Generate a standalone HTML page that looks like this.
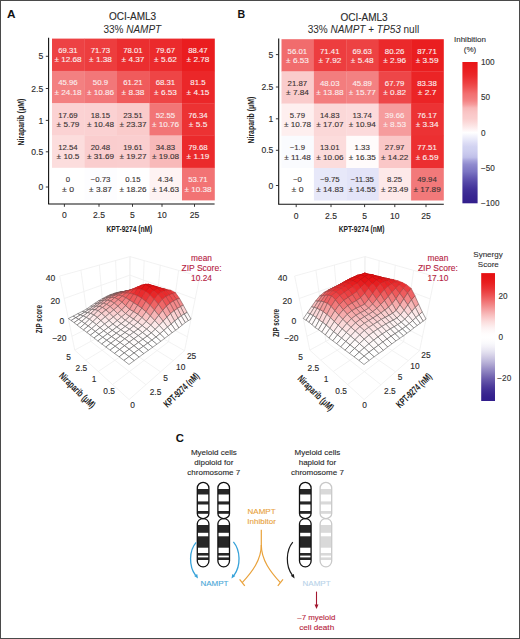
<!DOCTYPE html>
<html><head><meta charset="utf-8"><style>
html,body{margin:0;padding:0;background:#fff;}
svg{display:block;font-family:"Liberation Sans", sans-serif;}
</style></head><body>
<svg width="520" height="639" viewBox="0 0 520 639">
<rect width="520" height="639" fill="#fff"/>
<rect x="0.5" y="0.5" width="519" height="638" fill="none" stroke="#4a4a4a" stroke-width="1"/>
<text x="7.00" y="17.80" font-size="11.8" text-anchor="start" fill="#111" font-weight="bold" >A</text>
<text x="237.50" y="17.60" font-size="10.6" text-anchor="start" fill="#111" font-weight="bold" >B</text>
<text x="175.80" y="441.60" font-size="11.3" text-anchor="start" fill="#111" font-weight="bold" >C</text>
<text x="132.50" y="20.30" font-size="10" text-anchor="middle" fill="#2a2a2a" stroke="#2a2a2a" stroke-width="0.12" >OCI-AML3</text>
<text x="132.3" y="32.5" font-size="10" text-anchor="middle" fill="#2a2a2a">33% <tspan font-style="italic">NAMPT</tspan></text>
<text x="364.00" y="20.50" font-size="10" text-anchor="middle" fill="#2a2a2a" stroke="#2a2a2a" stroke-width="0.12" >OCI-AML3</text>
<text x="363.4" y="32.5" font-size="10" text-anchor="middle" fill="#2a2a2a">33% <tspan font-style="italic">NAMPT</tspan> + <tspan font-style="italic">TP53</tspan> null</text>
<rect x="52.00" y="38.60" width="32.80" height="32.60" fill="#ed4244"/>
<rect x="84.50" y="38.60" width="32.80" height="32.60" fill="#ed3d3e"/>
<rect x="117.00" y="38.60" width="32.80" height="32.60" fill="#eb2e30"/>
<rect x="149.50" y="38.60" width="32.80" height="32.60" fill="#eb2a2c"/>
<rect x="182.00" y="38.60" width="32.80" height="32.60" fill="#ea1d1f"/>
<rect x="52.00" y="70.90" width="32.80" height="32.60" fill="#f38081"/>
<rect x="84.50" y="70.90" width="32.80" height="32.60" fill="#f27779"/>
<rect x="117.00" y="70.90" width="32.80" height="32.60" fill="#f05b5c"/>
<rect x="149.50" y="70.90" width="32.80" height="32.60" fill="#ee4546"/>
<rect x="182.00" y="70.90" width="32.80" height="32.60" fill="#eb2729"/>
<rect x="52.00" y="103.20" width="32.80" height="32.60" fill="#fbd2d3"/>
<rect x="84.50" y="103.20" width="32.80" height="32.60" fill="#fbd1d2"/>
<rect x="117.00" y="103.20" width="32.80" height="32.60" fill="#facbcb"/>
<rect x="149.50" y="103.20" width="32.80" height="32.60" fill="#f27576"/>
<rect x="182.00" y="103.20" width="32.80" height="32.60" fill="#ec3233"/>
<rect x="52.00" y="135.50" width="32.80" height="32.60" fill="#fcdddd"/>
<rect x="84.50" y="135.50" width="32.80" height="32.60" fill="#facdce"/>
<rect x="117.00" y="135.50" width="32.80" height="32.60" fill="#facecf"/>
<rect x="149.50" y="135.50" width="32.80" height="32.60" fill="#f8b9b9"/>
<rect x="182.00" y="135.50" width="32.80" height="32.60" fill="#eb2a2c"/>
<rect x="52.00" y="167.80" width="32.80" height="32.60" fill="#ffffff"/>
<rect x="84.50" y="167.80" width="32.80" height="32.60" fill="#fdfdff"/>
<rect x="117.00" y="167.80" width="32.80" height="32.60" fill="#ffffff"/>
<rect x="149.50" y="167.80" width="32.80" height="32.60" fill="#fef3f3"/>
<rect x="182.00" y="167.80" width="32.80" height="32.60" fill="#f27374"/>
<text x="67.95" y="52.95" font-size="7.5" text-anchor="middle" fill="#fbeeee" stroke="#fbeeee" stroke-width="0.12" textLength="19.52" lengthAdjust="spacingAndGlyphs">69.31</text>
<text x="68.05" y="62.35" font-size="7.5" text-anchor="middle" fill="#fbeeee" stroke="#fbeeee" stroke-width="0.12" textLength="27.17" lengthAdjust="spacingAndGlyphs">± 12.68</text>
<text x="100.45" y="52.95" font-size="7.5" text-anchor="middle" fill="#fbeeee" stroke="#fbeeee" stroke-width="0.12" textLength="19.52" lengthAdjust="spacingAndGlyphs">71.73</text>
<text x="100.55" y="62.35" font-size="7.5" text-anchor="middle" fill="#fbeeee" stroke="#fbeeee" stroke-width="0.12" textLength="22.83" lengthAdjust="spacingAndGlyphs">± 1.38</text>
<text x="132.95" y="52.95" font-size="7.5" text-anchor="middle" fill="#fbeeee" stroke="#fbeeee" stroke-width="0.12" textLength="19.52" lengthAdjust="spacingAndGlyphs">78.01</text>
<text x="133.05" y="62.35" font-size="7.5" text-anchor="middle" fill="#fbeeee" stroke="#fbeeee" stroke-width="0.12" textLength="22.83" lengthAdjust="spacingAndGlyphs">± 4.37</text>
<text x="165.45" y="52.95" font-size="7.5" text-anchor="middle" fill="#fbeeee" stroke="#fbeeee" stroke-width="0.12" textLength="19.52" lengthAdjust="spacingAndGlyphs">79.67</text>
<text x="165.55" y="62.35" font-size="7.5" text-anchor="middle" fill="#fbeeee" stroke="#fbeeee" stroke-width="0.12" textLength="22.83" lengthAdjust="spacingAndGlyphs">± 5.62</text>
<text x="197.95" y="52.95" font-size="7.5" text-anchor="middle" fill="#fbeeee" stroke="#fbeeee" stroke-width="0.12" textLength="19.52" lengthAdjust="spacingAndGlyphs">88.47</text>
<text x="198.05" y="62.35" font-size="7.5" text-anchor="middle" fill="#fbeeee" stroke="#fbeeee" stroke-width="0.12" textLength="22.83" lengthAdjust="spacingAndGlyphs">± 2.78</text>
<text x="67.95" y="85.25" font-size="7.5" text-anchor="middle" fill="#fbeeee" stroke="#fbeeee" stroke-width="0.12" textLength="19.52" lengthAdjust="spacingAndGlyphs">45.96</text>
<text x="68.05" y="94.65" font-size="7.5" text-anchor="middle" fill="#fbeeee" stroke="#fbeeee" stroke-width="0.12" textLength="27.17" lengthAdjust="spacingAndGlyphs">± 24.18</text>
<text x="100.45" y="85.25" font-size="7.5" text-anchor="middle" fill="#fbeeee" stroke="#fbeeee" stroke-width="0.12" textLength="15.18" lengthAdjust="spacingAndGlyphs">50.9</text>
<text x="100.55" y="94.65" font-size="7.5" text-anchor="middle" fill="#fbeeee" stroke="#fbeeee" stroke-width="0.12" textLength="27.17" lengthAdjust="spacingAndGlyphs">± 10.86</text>
<text x="132.95" y="85.25" font-size="7.5" text-anchor="middle" fill="#fbeeee" stroke="#fbeeee" stroke-width="0.12" textLength="19.52" lengthAdjust="spacingAndGlyphs">61.21</text>
<text x="133.05" y="94.65" font-size="7.5" text-anchor="middle" fill="#fbeeee" stroke="#fbeeee" stroke-width="0.12" textLength="22.83" lengthAdjust="spacingAndGlyphs">± 8.38</text>
<text x="165.45" y="85.25" font-size="7.5" text-anchor="middle" fill="#fbeeee" stroke="#fbeeee" stroke-width="0.12" textLength="19.52" lengthAdjust="spacingAndGlyphs">68.31</text>
<text x="165.55" y="94.65" font-size="7.5" text-anchor="middle" fill="#fbeeee" stroke="#fbeeee" stroke-width="0.12" textLength="22.83" lengthAdjust="spacingAndGlyphs">± 6.53</text>
<text x="197.95" y="85.25" font-size="7.5" text-anchor="middle" fill="#fbeeee" stroke="#fbeeee" stroke-width="0.12" textLength="15.18" lengthAdjust="spacingAndGlyphs">81.5</text>
<text x="198.05" y="94.65" font-size="7.5" text-anchor="middle" fill="#fbeeee" stroke="#fbeeee" stroke-width="0.12" textLength="22.83" lengthAdjust="spacingAndGlyphs">± 4.15</text>
<text x="67.95" y="117.55" font-size="7.5" text-anchor="middle" fill="#3a3333" stroke="#3a3333" stroke-width="0.12" textLength="19.52" lengthAdjust="spacingAndGlyphs">17.69</text>
<text x="68.05" y="126.95" font-size="7.5" text-anchor="middle" fill="#3a3333" stroke="#3a3333" stroke-width="0.12" textLength="22.83" lengthAdjust="spacingAndGlyphs">± 5.79</text>
<text x="100.45" y="117.55" font-size="7.5" text-anchor="middle" fill="#3a3333" stroke="#3a3333" stroke-width="0.12" textLength="19.52" lengthAdjust="spacingAndGlyphs">18.15</text>
<text x="100.55" y="126.95" font-size="7.5" text-anchor="middle" fill="#3a3333" stroke="#3a3333" stroke-width="0.12" textLength="27.17" lengthAdjust="spacingAndGlyphs">± 10.48</text>
<text x="132.95" y="117.55" font-size="7.5" text-anchor="middle" fill="#3a3333" stroke="#3a3333" stroke-width="0.12" textLength="19.52" lengthAdjust="spacingAndGlyphs">23.51</text>
<text x="133.05" y="126.95" font-size="7.5" text-anchor="middle" fill="#3a3333" stroke="#3a3333" stroke-width="0.12" textLength="27.17" lengthAdjust="spacingAndGlyphs">± 23.37</text>
<text x="165.45" y="117.55" font-size="7.5" text-anchor="middle" fill="#fbeeee" stroke="#fbeeee" stroke-width="0.12" textLength="19.52" lengthAdjust="spacingAndGlyphs">52.55</text>
<text x="165.55" y="126.95" font-size="7.5" text-anchor="middle" fill="#fbeeee" stroke="#fbeeee" stroke-width="0.12" textLength="27.17" lengthAdjust="spacingAndGlyphs">± 10.76</text>
<text x="197.95" y="117.55" font-size="7.5" text-anchor="middle" fill="#fbeeee" stroke="#fbeeee" stroke-width="0.12" textLength="19.52" lengthAdjust="spacingAndGlyphs">76.34</text>
<text x="198.05" y="126.95" font-size="7.5" text-anchor="middle" fill="#fbeeee" stroke="#fbeeee" stroke-width="0.12" textLength="18.49" lengthAdjust="spacingAndGlyphs">± 5.5</text>
<text x="67.95" y="149.85" font-size="7.5" text-anchor="middle" fill="#3a3333" stroke="#3a3333" stroke-width="0.12" textLength="19.52" lengthAdjust="spacingAndGlyphs">12.54</text>
<text x="68.05" y="159.25" font-size="7.5" text-anchor="middle" fill="#3a3333" stroke="#3a3333" stroke-width="0.12" textLength="22.83" lengthAdjust="spacingAndGlyphs">± 10.5</text>
<text x="100.45" y="149.85" font-size="7.5" text-anchor="middle" fill="#3a3333" stroke="#3a3333" stroke-width="0.12" textLength="19.52" lengthAdjust="spacingAndGlyphs">20.48</text>
<text x="100.55" y="159.25" font-size="7.5" text-anchor="middle" fill="#3a3333" stroke="#3a3333" stroke-width="0.12" textLength="27.17" lengthAdjust="spacingAndGlyphs">± 31.69</text>
<text x="132.95" y="149.85" font-size="7.5" text-anchor="middle" fill="#3a3333" stroke="#3a3333" stroke-width="0.12" textLength="19.52" lengthAdjust="spacingAndGlyphs">19.61</text>
<text x="133.05" y="159.25" font-size="7.5" text-anchor="middle" fill="#3a3333" stroke="#3a3333" stroke-width="0.12" textLength="27.17" lengthAdjust="spacingAndGlyphs">± 19.27</text>
<text x="165.45" y="149.85" font-size="7.5" text-anchor="middle" fill="#3a3333" stroke="#3a3333" stroke-width="0.12" textLength="19.52" lengthAdjust="spacingAndGlyphs">34.83</text>
<text x="165.55" y="159.25" font-size="7.5" text-anchor="middle" fill="#3a3333" stroke="#3a3333" stroke-width="0.12" textLength="27.17" lengthAdjust="spacingAndGlyphs">± 19.08</text>
<text x="197.95" y="149.85" font-size="7.5" text-anchor="middle" fill="#fbeeee" stroke="#fbeeee" stroke-width="0.12" textLength="19.52" lengthAdjust="spacingAndGlyphs">79.68</text>
<text x="198.05" y="159.25" font-size="7.5" text-anchor="middle" fill="#fbeeee" stroke="#fbeeee" stroke-width="0.12" textLength="22.83" lengthAdjust="spacingAndGlyphs">± 1.19</text>
<text x="67.95" y="182.15" font-size="7.5" text-anchor="middle" fill="#3a3333" stroke="#3a3333" stroke-width="0.12" textLength="4.34" lengthAdjust="spacingAndGlyphs">0</text>
<text x="68.05" y="191.55" font-size="7.5" text-anchor="middle" fill="#3a3333" stroke="#3a3333" stroke-width="0.12" textLength="11.99" lengthAdjust="spacingAndGlyphs">± 0</text>
<text x="100.45" y="182.15" font-size="7.5" text-anchor="middle" fill="#3a3333" stroke="#3a3333" stroke-width="0.12" textLength="19.74" lengthAdjust="spacingAndGlyphs">−0.73</text>
<text x="100.55" y="191.55" font-size="7.5" text-anchor="middle" fill="#3a3333" stroke="#3a3333" stroke-width="0.12" textLength="22.83" lengthAdjust="spacingAndGlyphs">± 3.87</text>
<text x="132.95" y="182.15" font-size="7.5" text-anchor="middle" fill="#3a3333" stroke="#3a3333" stroke-width="0.12" textLength="15.18" lengthAdjust="spacingAndGlyphs">0.15</text>
<text x="133.05" y="191.55" font-size="7.5" text-anchor="middle" fill="#3a3333" stroke="#3a3333" stroke-width="0.12" textLength="27.17" lengthAdjust="spacingAndGlyphs">± 18.26</text>
<text x="165.45" y="182.15" font-size="7.5" text-anchor="middle" fill="#3a3333" stroke="#3a3333" stroke-width="0.12" textLength="15.18" lengthAdjust="spacingAndGlyphs">4.34</text>
<text x="165.55" y="191.55" font-size="7.5" text-anchor="middle" fill="#3a3333" stroke="#3a3333" stroke-width="0.12" textLength="27.17" lengthAdjust="spacingAndGlyphs">± 14.63</text>
<text x="197.95" y="182.15" font-size="7.5" text-anchor="middle" fill="#fbeeee" stroke="#fbeeee" stroke-width="0.12" textLength="19.52" lengthAdjust="spacingAndGlyphs">53.71</text>
<text x="198.05" y="191.55" font-size="7.5" text-anchor="middle" fill="#fbeeee" stroke="#fbeeee" stroke-width="0.12" textLength="27.17" lengthAdjust="spacingAndGlyphs">± 10.38</text>
<line x1="48.60" y1="37.8" x2="48.60" y2="204.0" stroke="#111" stroke-width="1.1"/>
<line x1="48.10" y1="204.00" x2="214.60" y2="204.00" stroke="#111" stroke-width="1.1"/>
<line x1="64.40" y1="204.0" x2="64.40" y2="206.8" stroke="#222" stroke-width="0.9"/>
<text x="64.40" y="218.40" font-size="8.6" text-anchor="middle" fill="#2a2a2a" stroke="#2a2a2a" stroke-width="0.12" >0</text>
<line x1="99.00" y1="204.0" x2="99.00" y2="206.8" stroke="#222" stroke-width="0.9"/>
<text x="99.00" y="218.40" font-size="8.6" text-anchor="middle" fill="#2a2a2a" stroke="#2a2a2a" stroke-width="0.12" >2.5</text>
<line x1="132.50" y1="204.0" x2="132.50" y2="206.8" stroke="#222" stroke-width="0.9"/>
<text x="132.50" y="218.40" font-size="8.6" text-anchor="middle" fill="#2a2a2a" stroke="#2a2a2a" stroke-width="0.12" >5</text>
<line x1="162.00" y1="204.0" x2="162.00" y2="206.8" stroke="#222" stroke-width="0.9"/>
<text x="162.00" y="218.40" font-size="8.6" text-anchor="middle" fill="#2a2a2a" stroke="#2a2a2a" stroke-width="0.12" >10</text>
<line x1="194.50" y1="204.0" x2="194.50" y2="206.8" stroke="#222" stroke-width="0.9"/>
<text x="194.50" y="218.40" font-size="8.6" text-anchor="middle" fill="#2a2a2a" stroke="#2a2a2a" stroke-width="0.12" >25</text>
<line x1="45.80" y1="56.30" x2="48.6" y2="56.30" stroke="#222" stroke-width="0.9"/>
<text x="43.30" y="59.40" font-size="8.6" text-anchor="end" fill="#2a2a2a" stroke="#2a2a2a" stroke-width="0.12" >5</text>
<line x1="45.80" y1="88.50" x2="48.6" y2="88.50" stroke="#222" stroke-width="0.9"/>
<text x="43.30" y="91.60" font-size="8.6" text-anchor="end" fill="#2a2a2a" stroke="#2a2a2a" stroke-width="0.12" >2.5</text>
<line x1="45.80" y1="120.40" x2="48.6" y2="120.40" stroke="#222" stroke-width="0.9"/>
<text x="43.30" y="123.50" font-size="8.6" text-anchor="end" fill="#2a2a2a" stroke="#2a2a2a" stroke-width="0.12" >1</text>
<line x1="45.80" y1="151.80" x2="48.6" y2="151.80" stroke="#222" stroke-width="0.9"/>
<text x="43.30" y="154.90" font-size="8.6" text-anchor="end" fill="#2a2a2a" stroke="#2a2a2a" stroke-width="0.12" >0.5</text>
<line x1="45.80" y1="187.00" x2="48.6" y2="187.00" stroke="#222" stroke-width="0.9"/>
<text x="43.30" y="190.10" font-size="8.6" text-anchor="end" fill="#2a2a2a" stroke="#2a2a2a" stroke-width="0.12" >0</text>
<text x="129.4" y="232.2" font-size="8.6" font-weight="bold" text-anchor="middle" fill="#222" textLength="45.8" lengthAdjust="spacingAndGlyphs">KPT-9274 (nM)</text>
<text transform="translate(24.0,122.0) rotate(-90)" x="0" y="0" font-size="8.6" font-weight="bold" text-anchor="middle" fill="#222" textLength="46.8" lengthAdjust="spacingAndGlyphs">Niraparib (μM)</text>
<rect x="281.50" y="39.20" width="32.70" height="32.50" fill="#f16c6d"/>
<rect x="313.90" y="39.20" width="32.70" height="32.50" fill="#ed3d3f"/>
<rect x="346.30" y="39.20" width="32.70" height="32.50" fill="#ed4243"/>
<rect x="378.70" y="39.20" width="32.70" height="32.50" fill="#eb292b"/>
<rect x="411.10" y="39.20" width="32.70" height="32.50" fill="#ea1e20"/>
<rect x="281.50" y="71.40" width="32.70" height="32.50" fill="#facccc"/>
<rect x="313.90" y="71.40" width="32.70" height="32.50" fill="#f37d7e"/>
<rect x="346.30" y="71.40" width="32.70" height="32.50" fill="#f38182"/>
<rect x="378.70" y="71.40" width="32.70" height="32.50" fill="#ee4648"/>
<rect x="411.10" y="71.40" width="32.70" height="32.50" fill="#eb2426"/>
<rect x="281.50" y="103.60" width="32.70" height="32.50" fill="#feefef"/>
<rect x="313.90" y="103.60" width="32.70" height="32.50" fill="#fbd8d8"/>
<rect x="346.30" y="103.60" width="32.70" height="32.50" fill="#fcdadb"/>
<rect x="378.70" y="103.60" width="32.70" height="32.50" fill="#f69c9d"/>
<rect x="411.10" y="103.60" width="32.70" height="32.50" fill="#ec3234"/>
<rect x="281.50" y="135.80" width="32.70" height="32.50" fill="#fafbfe"/>
<rect x="313.90" y="135.80" width="32.70" height="32.50" fill="#fcdcdc"/>
<rect x="346.30" y="135.80" width="32.70" height="32.50" fill="#fffbfb"/>
<rect x="378.70" y="135.80" width="32.70" height="32.50" fill="#fac7c7"/>
<rect x="411.10" y="135.80" width="32.70" height="32.50" fill="#ec2f31"/>
<rect x="281.50" y="168.00" width="32.70" height="32.50" fill="#ffffff"/>
<rect x="313.90" y="168.00" width="32.70" height="32.50" fill="#e7e8f9"/>
<rect x="346.30" y="168.00" width="32.70" height="32.50" fill="#e3e4f8"/>
<rect x="378.70" y="168.00" width="32.70" height="32.50" fill="#fde9e9"/>
<rect x="411.10" y="168.00" width="32.70" height="32.50" fill="#f2797a"/>
<text x="297.40" y="53.50" font-size="7.5" text-anchor="middle" fill="#fbeeee" stroke="#fbeeee" stroke-width="0.12" textLength="19.52" lengthAdjust="spacingAndGlyphs">56.01</text>
<text x="297.50" y="62.90" font-size="7.5" text-anchor="middle" fill="#fbeeee" stroke="#fbeeee" stroke-width="0.12" textLength="22.83" lengthAdjust="spacingAndGlyphs">± 6.53</text>
<text x="329.80" y="53.50" font-size="7.5" text-anchor="middle" fill="#fbeeee" stroke="#fbeeee" stroke-width="0.12" textLength="19.52" lengthAdjust="spacingAndGlyphs">71.41</text>
<text x="329.90" y="62.90" font-size="7.5" text-anchor="middle" fill="#fbeeee" stroke="#fbeeee" stroke-width="0.12" textLength="22.83" lengthAdjust="spacingAndGlyphs">± 7.92</text>
<text x="362.20" y="53.50" font-size="7.5" text-anchor="middle" fill="#fbeeee" stroke="#fbeeee" stroke-width="0.12" textLength="19.52" lengthAdjust="spacingAndGlyphs">69.63</text>
<text x="362.30" y="62.90" font-size="7.5" text-anchor="middle" fill="#fbeeee" stroke="#fbeeee" stroke-width="0.12" textLength="22.83" lengthAdjust="spacingAndGlyphs">± 5.48</text>
<text x="394.60" y="53.50" font-size="7.5" text-anchor="middle" fill="#fbeeee" stroke="#fbeeee" stroke-width="0.12" textLength="19.52" lengthAdjust="spacingAndGlyphs">80.26</text>
<text x="394.70" y="62.90" font-size="7.5" text-anchor="middle" fill="#fbeeee" stroke="#fbeeee" stroke-width="0.12" textLength="22.83" lengthAdjust="spacingAndGlyphs">± 2.96</text>
<text x="427.00" y="53.50" font-size="7.5" text-anchor="middle" fill="#fbeeee" stroke="#fbeeee" stroke-width="0.12" textLength="19.52" lengthAdjust="spacingAndGlyphs">87.71</text>
<text x="427.10" y="62.90" font-size="7.5" text-anchor="middle" fill="#fbeeee" stroke="#fbeeee" stroke-width="0.12" textLength="22.83" lengthAdjust="spacingAndGlyphs">± 3.59</text>
<text x="297.40" y="85.70" font-size="7.5" text-anchor="middle" fill="#3a3333" stroke="#3a3333" stroke-width="0.12" textLength="19.52" lengthAdjust="spacingAndGlyphs">21.87</text>
<text x="297.50" y="95.10" font-size="7.5" text-anchor="middle" fill="#3a3333" stroke="#3a3333" stroke-width="0.12" textLength="22.83" lengthAdjust="spacingAndGlyphs">± 7.84</text>
<text x="329.80" y="85.70" font-size="7.5" text-anchor="middle" fill="#fbeeee" stroke="#fbeeee" stroke-width="0.12" textLength="19.52" lengthAdjust="spacingAndGlyphs">48.03</text>
<text x="329.90" y="95.10" font-size="7.5" text-anchor="middle" fill="#fbeeee" stroke="#fbeeee" stroke-width="0.12" textLength="27.17" lengthAdjust="spacingAndGlyphs">± 13.88</text>
<text x="362.20" y="85.70" font-size="7.5" text-anchor="middle" fill="#fbeeee" stroke="#fbeeee" stroke-width="0.12" textLength="19.52" lengthAdjust="spacingAndGlyphs">45.89</text>
<text x="362.30" y="95.10" font-size="7.5" text-anchor="middle" fill="#fbeeee" stroke="#fbeeee" stroke-width="0.12" textLength="27.17" lengthAdjust="spacingAndGlyphs">± 15.77</text>
<text x="394.60" y="85.70" font-size="7.5" text-anchor="middle" fill="#fbeeee" stroke="#fbeeee" stroke-width="0.12" textLength="19.52" lengthAdjust="spacingAndGlyphs">67.79</text>
<text x="394.70" y="95.10" font-size="7.5" text-anchor="middle" fill="#fbeeee" stroke="#fbeeee" stroke-width="0.12" textLength="22.83" lengthAdjust="spacingAndGlyphs">± 0.82</text>
<text x="427.00" y="85.70" font-size="7.5" text-anchor="middle" fill="#fbeeee" stroke="#fbeeee" stroke-width="0.12" textLength="19.52" lengthAdjust="spacingAndGlyphs">83.38</text>
<text x="427.10" y="95.10" font-size="7.5" text-anchor="middle" fill="#fbeeee" stroke="#fbeeee" stroke-width="0.12" textLength="18.49" lengthAdjust="spacingAndGlyphs">± 2.7</text>
<text x="297.40" y="117.90" font-size="7.5" text-anchor="middle" fill="#3a3333" stroke="#3a3333" stroke-width="0.12" textLength="15.18" lengthAdjust="spacingAndGlyphs">5.79</text>
<text x="297.50" y="127.30" font-size="7.5" text-anchor="middle" fill="#3a3333" stroke="#3a3333" stroke-width="0.12" textLength="27.17" lengthAdjust="spacingAndGlyphs">± 10.78</text>
<text x="329.80" y="117.90" font-size="7.5" text-anchor="middle" fill="#3a3333" stroke="#3a3333" stroke-width="0.12" textLength="19.52" lengthAdjust="spacingAndGlyphs">14.83</text>
<text x="329.90" y="127.30" font-size="7.5" text-anchor="middle" fill="#3a3333" stroke="#3a3333" stroke-width="0.12" textLength="27.17" lengthAdjust="spacingAndGlyphs">± 17.07</text>
<text x="362.20" y="117.90" font-size="7.5" text-anchor="middle" fill="#3a3333" stroke="#3a3333" stroke-width="0.12" textLength="19.52" lengthAdjust="spacingAndGlyphs">13.74</text>
<text x="362.30" y="127.30" font-size="7.5" text-anchor="middle" fill="#3a3333" stroke="#3a3333" stroke-width="0.12" textLength="27.17" lengthAdjust="spacingAndGlyphs">± 10.94</text>
<text x="394.60" y="117.90" font-size="7.5" text-anchor="middle" fill="#fbeeee" stroke="#fbeeee" stroke-width="0.12" textLength="19.52" lengthAdjust="spacingAndGlyphs">39.66</text>
<text x="394.70" y="127.30" font-size="7.5" text-anchor="middle" fill="#fbeeee" stroke="#fbeeee" stroke-width="0.12" textLength="22.83" lengthAdjust="spacingAndGlyphs">± 8.53</text>
<text x="427.00" y="117.90" font-size="7.5" text-anchor="middle" fill="#fbeeee" stroke="#fbeeee" stroke-width="0.12" textLength="19.52" lengthAdjust="spacingAndGlyphs">76.17</text>
<text x="427.10" y="127.30" font-size="7.5" text-anchor="middle" fill="#fbeeee" stroke="#fbeeee" stroke-width="0.12" textLength="22.83" lengthAdjust="spacingAndGlyphs">± 3.34</text>
<text x="297.40" y="150.10" font-size="7.5" text-anchor="middle" fill="#3a3333" stroke="#3a3333" stroke-width="0.12" textLength="15.40" lengthAdjust="spacingAndGlyphs">−1.9</text>
<text x="297.50" y="159.50" font-size="7.5" text-anchor="middle" fill="#3a3333" stroke="#3a3333" stroke-width="0.12" textLength="26.59" lengthAdjust="spacingAndGlyphs">± 11.48</text>
<text x="329.80" y="150.10" font-size="7.5" text-anchor="middle" fill="#3a3333" stroke="#3a3333" stroke-width="0.12" textLength="19.52" lengthAdjust="spacingAndGlyphs">13.01</text>
<text x="329.90" y="159.50" font-size="7.5" text-anchor="middle" fill="#3a3333" stroke="#3a3333" stroke-width="0.12" textLength="27.17" lengthAdjust="spacingAndGlyphs">± 10.06</text>
<text x="362.20" y="150.10" font-size="7.5" text-anchor="middle" fill="#3a3333" stroke="#3a3333" stroke-width="0.12" textLength="15.18" lengthAdjust="spacingAndGlyphs">1.33</text>
<text x="362.30" y="159.50" font-size="7.5" text-anchor="middle" fill="#3a3333" stroke="#3a3333" stroke-width="0.12" textLength="27.17" lengthAdjust="spacingAndGlyphs">± 16.35</text>
<text x="394.60" y="150.10" font-size="7.5" text-anchor="middle" fill="#3a3333" stroke="#3a3333" stroke-width="0.12" textLength="19.52" lengthAdjust="spacingAndGlyphs">27.97</text>
<text x="394.70" y="159.50" font-size="7.5" text-anchor="middle" fill="#3a3333" stroke="#3a3333" stroke-width="0.12" textLength="27.17" lengthAdjust="spacingAndGlyphs">± 14.22</text>
<text x="427.00" y="150.10" font-size="7.5" text-anchor="middle" fill="#fbeeee" stroke="#fbeeee" stroke-width="0.12" textLength="19.52" lengthAdjust="spacingAndGlyphs">77.51</text>
<text x="427.10" y="159.50" font-size="7.5" text-anchor="middle" fill="#fbeeee" stroke="#fbeeee" stroke-width="0.12" textLength="22.83" lengthAdjust="spacingAndGlyphs">± 6.59</text>
<text x="297.40" y="182.30" font-size="7.5" text-anchor="middle" fill="#3a3333" stroke="#3a3333" stroke-width="0.12" textLength="8.89" lengthAdjust="spacingAndGlyphs">−0</text>
<text x="297.50" y="191.70" font-size="7.5" text-anchor="middle" fill="#3a3333" stroke="#3a3333" stroke-width="0.12" textLength="11.99" lengthAdjust="spacingAndGlyphs">± 0</text>
<text x="329.80" y="182.30" font-size="7.5" text-anchor="middle" fill="#3a3333" stroke="#3a3333" stroke-width="0.12" textLength="19.74" lengthAdjust="spacingAndGlyphs">−9.75</text>
<text x="329.90" y="191.70" font-size="7.5" text-anchor="middle" fill="#3a3333" stroke="#3a3333" stroke-width="0.12" textLength="27.17" lengthAdjust="spacingAndGlyphs">± 14.83</text>
<text x="362.20" y="182.30" font-size="7.5" text-anchor="middle" fill="#3a3333" stroke="#3a3333" stroke-width="0.12" textLength="23.49" lengthAdjust="spacingAndGlyphs">−11.35</text>
<text x="362.30" y="191.70" font-size="7.5" text-anchor="middle" fill="#3a3333" stroke="#3a3333" stroke-width="0.12" textLength="27.17" lengthAdjust="spacingAndGlyphs">± 14.55</text>
<text x="394.60" y="182.30" font-size="7.5" text-anchor="middle" fill="#3a3333" stroke="#3a3333" stroke-width="0.12" textLength="15.18" lengthAdjust="spacingAndGlyphs">8.25</text>
<text x="394.70" y="191.70" font-size="7.5" text-anchor="middle" fill="#3a3333" stroke="#3a3333" stroke-width="0.12" textLength="27.17" lengthAdjust="spacingAndGlyphs">± 23.49</text>
<text x="427.00" y="182.30" font-size="7.5" text-anchor="middle" fill="#3a3333" stroke="#3a3333" stroke-width="0.12" textLength="19.52" lengthAdjust="spacingAndGlyphs">49.94</text>
<text x="427.10" y="191.70" font-size="7.5" text-anchor="middle" fill="#3a3333" stroke="#3a3333" stroke-width="0.12" textLength="27.17" lengthAdjust="spacingAndGlyphs">± 17.89</text>
<line x1="278.70" y1="38.4" x2="278.70" y2="204.3" stroke="#111" stroke-width="1.1"/>
<line x1="278.20" y1="204.30" x2="443.80" y2="204.30" stroke="#111" stroke-width="1.1"/>
<line x1="296.20" y1="204.3" x2="296.20" y2="207.10000000000002" stroke="#222" stroke-width="0.9"/>
<text x="296.20" y="218.70" font-size="8.6" text-anchor="middle" fill="#2a2a2a" stroke="#2a2a2a" stroke-width="0.12" >0</text>
<line x1="331.00" y1="204.3" x2="331.00" y2="207.10000000000002" stroke="#222" stroke-width="0.9"/>
<text x="331.00" y="218.70" font-size="8.6" text-anchor="middle" fill="#2a2a2a" stroke="#2a2a2a" stroke-width="0.12" >2.5</text>
<line x1="364.60" y1="204.3" x2="364.60" y2="207.10000000000002" stroke="#222" stroke-width="0.9"/>
<text x="364.60" y="218.70" font-size="8.6" text-anchor="middle" fill="#2a2a2a" stroke="#2a2a2a" stroke-width="0.12" >5</text>
<line x1="394.80" y1="204.3" x2="394.80" y2="207.10000000000002" stroke="#222" stroke-width="0.9"/>
<text x="394.80" y="218.70" font-size="8.6" text-anchor="middle" fill="#2a2a2a" stroke="#2a2a2a" stroke-width="0.12" >10</text>
<line x1="426.00" y1="204.3" x2="426.00" y2="207.10000000000002" stroke="#222" stroke-width="0.9"/>
<text x="426.00" y="218.70" font-size="8.6" text-anchor="middle" fill="#2a2a2a" stroke="#2a2a2a" stroke-width="0.12" >25</text>
<line x1="275.90" y1="54.60" x2="278.7" y2="54.60" stroke="#222" stroke-width="0.9"/>
<text x="273.40" y="57.70" font-size="8.6" text-anchor="end" fill="#2a2a2a" stroke="#2a2a2a" stroke-width="0.12" >5</text>
<line x1="275.90" y1="87.00" x2="278.7" y2="87.00" stroke="#222" stroke-width="0.9"/>
<text x="273.40" y="90.10" font-size="8.6" text-anchor="end" fill="#2a2a2a" stroke="#2a2a2a" stroke-width="0.12" >2.5</text>
<line x1="275.90" y1="118.80" x2="278.7" y2="118.80" stroke="#222" stroke-width="0.9"/>
<text x="273.40" y="121.90" font-size="8.6" text-anchor="end" fill="#2a2a2a" stroke="#2a2a2a" stroke-width="0.12" >1</text>
<line x1="275.90" y1="150.30" x2="278.7" y2="150.30" stroke="#222" stroke-width="0.9"/>
<text x="273.40" y="153.40" font-size="8.6" text-anchor="end" fill="#2a2a2a" stroke="#2a2a2a" stroke-width="0.12" >0.5</text>
<line x1="275.90" y1="185.50" x2="278.7" y2="185.50" stroke="#222" stroke-width="0.9"/>
<text x="273.40" y="188.60" font-size="8.6" text-anchor="end" fill="#2a2a2a" stroke="#2a2a2a" stroke-width="0.12" >0</text>
<text x="361.6" y="231.6" font-size="8.6" font-weight="bold" text-anchor="middle" fill="#222" textLength="45.8" lengthAdjust="spacingAndGlyphs">KPT-9274 (nM)</text>
<text transform="translate(253.5,120.1) rotate(-90)" x="0" y="0" font-size="8.6" font-weight="bold" text-anchor="middle" fill="#222" textLength="46.8" lengthAdjust="spacingAndGlyphs">Niraparib (μM)</text>
<defs><linearGradient id="gInh" x1="0" y1="0" x2="0" y2="1"><stop offset="0.000" stop-color="#e91416"/><stop offset="0.025" stop-color="#e9181a"/><stop offset="0.050" stop-color="#ea1c1e"/><stop offset="0.075" stop-color="#ea2224"/><stop offset="0.100" stop-color="#eb292b"/><stop offset="0.125" stop-color="#ec3537"/><stop offset="0.150" stop-color="#ed4142"/><stop offset="0.175" stop-color="#ef4f50"/><stop offset="0.200" stop-color="#f05f60"/><stop offset="0.225" stop-color="#f26f70"/><stop offset="0.250" stop-color="#f2797a"/><stop offset="0.275" stop-color="#f48485"/><stop offset="0.300" stop-color="#f69a9b"/><stop offset="0.325" stop-color="#f8b8b9"/><stop offset="0.350" stop-color="#f9c3c3"/><stop offset="0.375" stop-color="#fac9ca"/><stop offset="0.400" stop-color="#facece"/><stop offset="0.425" stop-color="#fbd8d8"/><stop offset="0.450" stop-color="#fce4e4"/><stop offset="0.475" stop-color="#fef1f2"/><stop offset="0.500" stop-color="#ffffff"/><stop offset="0.525" stop-color="#f3f3fc"/><stop offset="0.550" stop-color="#e7e8f9"/><stop offset="0.575" stop-color="#dcdcf5"/><stop offset="0.600" stop-color="#d2d3f1"/><stop offset="0.625" stop-color="#cecff0"/><stop offset="0.650" stop-color="#c8c8ed"/><stop offset="0.675" stop-color="#bfbfe9"/><stop offset="0.700" stop-color="#a3a0da"/><stop offset="0.725" stop-color="#908bcf"/><stop offset="0.750" stop-color="#857fc8"/><stop offset="0.775" stop-color="#7c75c3"/><stop offset="0.800" stop-color="#6e65b9"/><stop offset="0.825" stop-color="#6155b0"/><stop offset="0.850" stop-color="#5548a7"/><stop offset="0.875" stop-color="#4b3ca0"/><stop offset="0.900" stop-color="#423199"/><stop offset="0.925" stop-color="#3c2b94"/><stop offset="0.950" stop-color="#382591"/><stop offset="0.975" stop-color="#35228e"/><stop offset="1.000" stop-color="#321e8c"/></linearGradient><linearGradient id="gSyn" x1="0" y1="0" x2="0" y2="1"><stop offset="0.000" stop-color="#e61012"/><stop offset="0.025" stop-color="#e61214"/><stop offset="0.050" stop-color="#e71719"/><stop offset="0.075" stop-color="#e81f20"/><stop offset="0.100" stop-color="#e9292b"/><stop offset="0.125" stop-color="#ea3537"/><stop offset="0.150" stop-color="#eb4445"/><stop offset="0.175" stop-color="#ed5355"/><stop offset="0.200" stop-color="#ef6465"/><stop offset="0.225" stop-color="#f17677"/><stop offset="0.250" stop-color="#f28888"/><stop offset="0.275" stop-color="#f4999a"/><stop offset="0.300" stop-color="#f6abac"/><stop offset="0.325" stop-color="#f8bcbc"/><stop offset="0.350" stop-color="#facbcc"/><stop offset="0.375" stop-color="#fbdada"/><stop offset="0.400" stop-color="#fce6e6"/><stop offset="0.425" stop-color="#fdf0f1"/><stop offset="0.450" stop-color="#fef8f8"/><stop offset="0.475" stop-color="#fffdfd"/><stop offset="0.500" stop-color="#ffffff"/><stop offset="0.525" stop-color="#fefdfe"/><stop offset="0.550" stop-color="#f9f9fc"/><stop offset="0.575" stop-color="#f3f1f8"/><stop offset="0.600" stop-color="#eae8f3"/><stop offset="0.625" stop-color="#dfdced"/><stop offset="0.650" stop-color="#d3cee6"/><stop offset="0.675" stop-color="#c5c0df"/><stop offset="0.700" stop-color="#b7b0d7"/><stop offset="0.725" stop-color="#a89fce"/><stop offset="0.750" stop-color="#988ec6"/><stop offset="0.775" stop-color="#897ebd"/><stop offset="0.800" stop-color="#7a6db4"/><stop offset="0.825" stop-color="#6c5dac"/><stop offset="0.850" stop-color="#5e4fa5"/><stop offset="0.875" stop-color="#52419e"/><stop offset="0.900" stop-color="#473598"/><stop offset="0.925" stop-color="#3e2c93"/><stop offset="0.950" stop-color="#38248f"/><stop offset="0.975" stop-color="#33208d"/><stop offset="1.000" stop-color="#321e8c"/></linearGradient></defs>
<rect x="462.4" y="62.0" width="15.2" height="141.3" fill="url(#gInh)"/>
<text x="470.00" y="42.20" font-size="8" text-anchor="middle" fill="#333" stroke="#333" stroke-width="0.12" >Inhibition</text>
<text x="470.00" y="52.20" font-size="8" text-anchor="middle" fill="#333" stroke="#333" stroke-width="0.12" >(%)</text>
<text x="481.00" y="65.00" font-size="8.2" text-anchor="start" fill="#333" stroke="#333" stroke-width="0.12" >100</text>
<text x="481.00" y="100.30" font-size="8.2" text-anchor="start" fill="#333" stroke="#333" stroke-width="0.12" >50</text>
<text x="481.00" y="135.60" font-size="8.2" text-anchor="start" fill="#333" stroke="#333" stroke-width="0.12" >0</text>
<text x="481.00" y="171.00" font-size="8.2" text-anchor="start" fill="#333" stroke="#333" stroke-width="0.12" >−50</text>
<text x="481.00" y="206.30" font-size="8.2" text-anchor="start" fill="#333" stroke="#333" stroke-width="0.12" >−100</text>
<rect x="481.2" y="273.1" width="13.8" height="127.9" fill="url(#gSyn)"/>
<text x="488.00" y="257.40" font-size="8" text-anchor="middle" fill="#333" stroke="#333" stroke-width="0.12" >Synergy</text>
<text x="488.30" y="267.30" font-size="8" text-anchor="middle" fill="#333" stroke="#333" stroke-width="0.12" >Score</text>
<text x="498.50" y="299.00" font-size="8.2" text-anchor="start" fill="#333" stroke="#333" stroke-width="0.12" >20</text>
<text x="498.50" y="340.00" font-size="8.2" text-anchor="start" fill="#333" stroke="#333" stroke-width="0.12" >0</text>
<text x="497.30" y="381.30" font-size="8.2" text-anchor="start" fill="#333" stroke="#333" stroke-width="0.12" >−20</text>
<line x1="71.94" y1="336.27" x2="129.90" y2="307.65" stroke="#efefef" stroke-width="0.8"/>
<line x1="68.33" y1="318.57" x2="129.91" y2="292.19" stroke="#efefef" stroke-width="0.8"/>
<line x1="64.24" y1="298.50" x2="129.93" y2="275.12" stroke="#efefef" stroke-width="0.8"/>
<line x1="59.66" y1="276.06" x2="129.95" y2="256.58" stroke="#efefef" stroke-width="0.8"/>
<line x1="74.77" y1="350.13" x2="59.66" y2="276.06" stroke="#efefef" stroke-width="0.8"/>
<line x1="90.83" y1="341.35" x2="80.90" y2="270.17" stroke="#efefef" stroke-width="0.8"/>
<line x1="105.22" y1="333.49" x2="99.37" y2="265.06" stroke="#efefef" stroke-width="0.8"/>
<line x1="118.17" y1="326.42" x2="115.60" y2="260.56" stroke="#efefef" stroke-width="0.8"/>
<line x1="129.89" y1="320.01" x2="129.95" y2="256.58" stroke="#efefef" stroke-width="0.8"/>
<line x1="187.41" y1="336.77" x2="129.90" y2="307.65" stroke="#efefef" stroke-width="0.8"/>
<line x1="191.05" y1="319.03" x2="129.91" y2="292.19" stroke="#efefef" stroke-width="0.8"/>
<line x1="195.17" y1="298.91" x2="129.93" y2="275.12" stroke="#efefef" stroke-width="0.8"/>
<line x1="199.79" y1="276.41" x2="129.95" y2="256.58" stroke="#efefef" stroke-width="0.8"/>
<line x1="184.57" y1="350.65" x2="199.79" y2="276.41" stroke="#efefef" stroke-width="0.8"/>
<line x1="168.59" y1="341.70" x2="178.63" y2="270.40" stroke="#efefef" stroke-width="0.8"/>
<line x1="154.32" y1="333.70" x2="160.26" y2="265.19" stroke="#efefef" stroke-width="0.8"/>
<line x1="141.48" y1="326.51" x2="144.17" y2="260.62" stroke="#efefef" stroke-width="0.8"/>
<line x1="129.89" y1="320.01" x2="129.95" y2="256.58" stroke="#efefef" stroke-width="0.8"/>
<line x1="129.08" y1="399.55" x2="74.77" y2="350.13" stroke="#efefef" stroke-width="0.8"/>
<line x1="145.92" y1="384.71" x2="90.83" y2="341.35" stroke="#efefef" stroke-width="0.8"/>
<line x1="160.52" y1="371.84" x2="105.22" y2="333.49" stroke="#efefef" stroke-width="0.8"/>
<line x1="173.29" y1="360.58" x2="118.17" y2="326.42" stroke="#efefef" stroke-width="0.8"/>
<line x1="184.57" y1="350.65" x2="129.89" y2="320.01" stroke="#efefef" stroke-width="0.8"/>
<line x1="129.08" y1="399.55" x2="184.57" y2="350.65" stroke="#efefef" stroke-width="0.8"/>
<line x1="112.56" y1="384.52" x2="168.59" y2="341.70" stroke="#efefef" stroke-width="0.8"/>
<line x1="98.27" y1="371.51" x2="154.32" y2="333.70" stroke="#efefef" stroke-width="0.8"/>
<line x1="85.78" y1="360.14" x2="141.48" y2="326.51" stroke="#efefef" stroke-width="0.8"/>
<line x1="74.77" y1="350.13" x2="129.89" y2="320.01" stroke="#efefef" stroke-width="0.8"/>
<path d="M129.88,291.05 L133.00,290.77 L129.92,290.94 L126.80,291.25Z" fill="#fef7f7" stroke="#5d5b5b" stroke-width="0.6" stroke-linejoin="round"/>
<path d="M126.66,291.27 L129.88,291.05 L126.80,291.25 L123.59,291.54Z" fill="#fdefef" stroke="#5f5a5a" stroke-width="0.6" stroke-linejoin="round"/>
<path d="M133.08,290.62 L136.20,290.44 L133.00,290.77 L129.88,291.05Z" fill="#fdeaea" stroke="#615959" stroke-width="0.6" stroke-linejoin="round"/>
<path d="M123.33,291.62 L126.66,291.27 L123.59,291.54 L120.27,291.95Z" fill="#fce5e5" stroke="#625959" stroke-width="0.6" stroke-linejoin="round"/>
<path d="M129.85,290.77 L133.08,290.62 L129.88,291.05 L126.66,291.27Z" fill="#fcdede" stroke="#645858" stroke-width="0.6" stroke-linejoin="round"/>
<path d="M136.41,290.06 L139.53,290.08 L136.20,290.44 L133.08,290.62Z" fill="#fbd6d7" stroke="#665757" stroke-width="0.6" stroke-linejoin="round"/>
<path d="M119.88,292.21 L123.33,291.62 L120.27,291.95 L116.84,292.58Z" fill="#fbdcdc" stroke="#645858" stroke-width="0.6" stroke-linejoin="round"/>
<path d="M126.50,291.08 L129.85,290.77 L126.66,291.27 L123.33,291.62Z" fill="#fad1d1" stroke="#675656" stroke-width="0.6" stroke-linejoin="round"/>
<path d="M133.17,290.09 L136.41,290.06 L133.08,290.62 L129.85,290.77Z" fill="#f9c6c7" stroke="#6b5555" stroke-width="0.6" stroke-linejoin="round"/>
<path d="M139.87,289.47 L142.98,289.75 L139.53,290.08 L136.41,290.06Z" fill="#f8bfbf" stroke="#6d5454" stroke-width="0.6" stroke-linejoin="round"/>
<path d="M116.34,293.16 L119.88,292.21 L116.84,292.58 L113.32,293.58Z" fill="#fbd4d5" stroke="#675757" stroke-width="0.6" stroke-linejoin="round"/>
<path d="M123.04,291.67 L126.50,291.08 L123.33,291.62 L119.88,292.21Z" fill="#f9c5c5" stroke="#6b5555" stroke-width="0.6" stroke-linejoin="round"/>
<path d="M129.81,290.35 L133.17,290.09 L129.85,290.77 L126.50,291.08Z" fill="#f7b6b7" stroke="#705353" stroke-width="0.6" stroke-linejoin="round"/>
<path d="M136.64,289.24 L139.87,289.47 L136.41,290.06 L133.17,290.09Z" fill="#f6aaab" stroke="#755151" stroke-width="0.6" stroke-linejoin="round"/>
<path d="M143.48,288.90 L146.56,289.56 L142.98,289.75 L139.87,289.47Z" fill="#f6a5a6" stroke="#775050" stroke-width="0.6" stroke-linejoin="round"/>
<path d="M112.69,294.47 L116.34,293.16 L113.32,293.58 L109.71,294.92Z" fill="#fad1d1" stroke="#675656" stroke-width="0.6" stroke-linejoin="round"/>
<path d="M119.47,292.59 L123.04,291.67 L119.88,292.21 L116.34,293.16Z" fill="#f8bcbc" stroke="#6e5353" stroke-width="0.6" stroke-linejoin="round"/>
<path d="M126.34,290.97 L129.81,290.35 L126.50,291.08 L123.04,291.67Z" fill="#f6a8a9" stroke="#765051" stroke-width="0.6" stroke-linejoin="round"/>
<path d="M133.27,289.37 L136.64,289.24 L133.17,290.09 L129.81,290.35Z" fill="#f49697" stroke="#7d4d4d" stroke-width="0.6" stroke-linejoin="round"/>
<path d="M108.96,296.18 L112.69,294.47 L109.71,294.92 L106.02,296.62Z" fill="#fad1d1" stroke="#675656" stroke-width="0.6" stroke-linejoin="round"/>
<path d="M147.23,288.49 L150.27,289.62 L146.56,289.56 L143.48,288.90Z" fill="#f38d8e" stroke="#824b4c" stroke-width="0.6" stroke-linejoin="round"/>
<path d="M140.26,288.24 L143.48,288.90 L139.87,289.47 L136.64,289.24Z" fill="#f38b8c" stroke="#834b4b" stroke-width="0.6" stroke-linejoin="round"/>
<path d="M115.80,293.90 L119.47,292.59 L116.34,293.16 L112.69,294.47Z" fill="#f7b7b8" stroke="#705353" stroke-width="0.6" stroke-linejoin="round"/>
<path d="M122.74,291.94 L126.34,290.97 L123.04,291.67 L119.47,292.59Z" fill="#f59fa0" stroke="#794f4f" stroke-width="0.6" stroke-linejoin="round"/>
<path d="M105.14,298.26 L108.96,296.18 L106.02,296.62 L102.24,298.66Z" fill="#fbd5d5" stroke="#665757" stroke-width="0.6" stroke-linejoin="round"/>
<path d="M129.77,290.08 L133.27,289.37 L129.81,290.35 L126.34,290.97Z" fill="#f38889" stroke="#844a4a" stroke-width="0.6" stroke-linejoin="round"/>
<path d="M151.12,288.39 L154.10,290.06 L150.27,289.62 L147.23,288.49Z" fill="#f17879" stroke="#8d4647" stroke-width="0.6" stroke-linejoin="round"/>
<path d="M112.03,295.62 L115.80,293.90 L112.69,294.47 L108.96,296.18Z" fill="#f7b7b8" stroke="#705353" stroke-width="0.6" stroke-linejoin="round"/>
<path d="M136.90,288.04 L140.26,288.24 L136.64,289.24 L133.27,289.37Z" fill="#f07374" stroke="#904545" stroke-width="0.6" stroke-linejoin="round"/>
<path d="M144.06,287.21 L147.23,288.49 L143.48,288.90 L140.26,288.24Z" fill="#f06c6d" stroke="#954343" stroke-width="0.6" stroke-linejoin="round"/>
<path d="M101.25,300.67 L105.14,298.26 L102.24,298.66 L98.38,300.92Z" fill="#fbdcdc" stroke="#645858" stroke-width="0.6" stroke-linejoin="round"/>
<path d="M119.04,293.35 L122.74,291.94 L119.47,292.59 L115.80,293.90Z" fill="#f49a9b" stroke="#7c4e4e" stroke-width="0.6" stroke-linejoin="round"/>
<path d="M126.16,291.22 L129.77,290.08 L126.34,290.97 L122.74,291.94Z" fill="#f27f80" stroke="#894848" stroke-width="0.6" stroke-linejoin="round"/>
<path d="M108.17,297.78 L112.03,295.62 L108.96,296.18 L105.14,298.26Z" fill="#f8bcbc" stroke="#6e5353" stroke-width="0.6" stroke-linejoin="round"/>
<path d="M97.27,303.38 L101.25,300.67 L98.38,300.92 L94.45,303.48Z" fill="#fce4e4" stroke="#625959" stroke-width="0.6" stroke-linejoin="round"/>
<path d="M155.16,288.44 L158.05,290.66 L154.10,290.06 L151.12,288.39Z" fill="#ef6768" stroke="#984142" stroke-width="0.6" stroke-linejoin="round"/>
<path d="M133.38,288.72 L136.90,288.04 L133.27,289.37 L129.77,290.08Z" fill="#ef6365" stroke="#9b4041" stroke-width="0.6" stroke-linejoin="round"/>
<path d="M115.23,295.17 L119.04,293.35 L115.80,293.90 L112.03,295.62Z" fill="#f49a9b" stroke="#7c4e4e" stroke-width="0.6" stroke-linejoin="round"/>
<path d="M148.01,286.38 L151.12,288.39 L147.23,288.49 L144.06,287.21Z" fill="#ed5152" stroke="#aa3a3b" stroke-width="0.6" stroke-linejoin="round"/>
<path d="M140.70,286.49 L144.06,287.21 L140.26,288.24 L136.90,288.04Z" fill="#ed4f51" stroke="#ac393a" stroke-width="0.6" stroke-linejoin="round"/>
<path d="M104.23,300.34 L108.17,297.78 L105.14,298.26 L101.25,300.67Z" fill="#f9c4c5" stroke="#6c5555" stroke-width="0.6" stroke-linejoin="round"/>
<path d="M122.43,292.98 L126.16,291.22 L122.74,291.94 L119.04,293.35Z" fill="#f17c7d" stroke="#8b4748" stroke-width="0.6" stroke-linejoin="round"/>
<path d="M93.22,306.33 L97.27,303.38 L94.45,303.48 L90.45,306.31Z" fill="#fdeded" stroke="#605a5a" stroke-width="0.6" stroke-linejoin="round"/>
<path d="M129.73,290.39 L133.38,288.72 L129.77,290.08 L126.16,291.22Z" fill="#ee5d5f" stroke="#a03e3f" stroke-width="0.6" stroke-linejoin="round"/>
<path d="M111.34,297.46 L115.23,295.17 L112.03,295.62 L108.17,297.78Z" fill="#f5a0a0" stroke="#794f4f" stroke-width="0.6" stroke-linejoin="round"/>
<path d="M159.38,288.34 L162.28,290.00 L158.05,290.66 L155.16,288.44Z" fill="#ed5355" stroke="#a83b3c" stroke-width="0.6" stroke-linejoin="round"/>
<path d="M100.21,303.19 L104.23,300.34 L101.25,300.67 L97.27,303.38Z" fill="#fad0d0" stroke="#685656" stroke-width="0.6" stroke-linejoin="round"/>
<path d="M89.07,309.33 L93.22,306.33 L90.45,306.31 L86.35,309.21Z" fill="#fef5f5" stroke="#5e5b5b" stroke-width="0.6" stroke-linejoin="round"/>
<path d="M118.61,295.19 L122.43,292.98 L119.04,293.35 L115.23,295.17Z" fill="#f27f80" stroke="#894848" stroke-width="0.6" stroke-linejoin="round"/>
<path d="M137.17,287.12 L140.70,286.49 L136.90,288.04 L133.38,288.72Z" fill="#eb3f41" stroke="#bc3234" stroke-width="0.6" stroke-linejoin="round"/>
<path d="M152.12,286.06 L155.16,288.44 L151.12,288.39 L148.01,286.38Z" fill="#eb3c3d" stroke="#c03131" stroke-width="0.6" stroke-linejoin="round"/>
<path d="M144.70,284.97 L148.01,286.38 L144.06,287.21 L140.70,286.49Z" fill="#e93133" stroke="#c6292b" stroke-width="0.6" stroke-linejoin="round"/>
<path d="M107.37,300.30 L111.34,297.46 L108.17,297.78 L104.23,300.34Z" fill="#f6abab" stroke="#755151" stroke-width="0.6" stroke-linejoin="round"/>
<path d="M125.98,292.96 L129.73,290.39 L126.16,291.22 L122.43,292.98Z" fill="#ee6062" stroke="#9d3f41" stroke-width="0.6" stroke-linejoin="round"/>
<path d="M96.11,306.21 L100.21,303.19 L97.27,303.38 L93.22,306.33Z" fill="#fbdcdc" stroke="#645858" stroke-width="0.6" stroke-linejoin="round"/>
<path d="M84.79,312.14 L89.07,309.33 L86.35,309.21 L82.05,311.52Z" fill="#fffafa" stroke="#5d5b5b" stroke-width="0.6" stroke-linejoin="round"/>
<path d="M114.68,297.72 L118.61,295.19 L115.23,295.17 L111.34,297.46Z" fill="#f28788" stroke="#854a4a" stroke-width="0.6" stroke-linejoin="round"/>
<path d="M133.48,289.53 L137.17,287.12 L133.38,288.72 L129.73,290.39Z" fill="#eb3d3f" stroke="#be3133" stroke-width="0.6" stroke-linejoin="round"/>
<path d="M163.73,288.72 L166.65,289.74 L162.28,290.00 L159.38,288.34Z" fill="#eb3f41" stroke="#bc3234" stroke-width="0.6" stroke-linejoin="round"/>
<path d="M103.32,303.34 L107.37,300.30 L104.23,300.34 L100.21,303.19Z" fill="#f8b9ba" stroke="#6f5353" stroke-width="0.6" stroke-linejoin="round"/>
<path d="M91.91,309.36 L96.11,306.21 L93.22,306.33 L89.07,309.33Z" fill="#fde8e8" stroke="#615959" stroke-width="0.6" stroke-linejoin="round"/>
<path d="M122.14,296.09 L125.98,292.96 L122.43,292.98 L118.61,295.19Z" fill="#f06b6c" stroke="#964343" stroke-width="0.6" stroke-linejoin="round"/>
<path d="M156.34,286.58 L159.38,288.34 L155.16,288.44 L152.12,286.06Z" fill="#e92d2f" stroke="#c62627" stroke-width="0.6" stroke-linejoin="round"/>
<path d="M80.36,314.89 L84.79,312.14 L82.05,311.52 L77.61,313.79Z" fill="#fffdfd" stroke="#5c5b5b" stroke-width="0.6" stroke-linejoin="round"/>
<path d="M141.16,285.41 L144.70,284.97 L140.70,286.49 L137.17,287.12Z" fill="#e82224" stroke="#c51c1e" stroke-width="0.6" stroke-linejoin="round"/>
<path d="M110.70,301.06 L114.68,297.72 L111.34,297.46 L107.37,300.30Z" fill="#f49696" stroke="#7e4d4d" stroke-width="0.6" stroke-linejoin="round"/>
<path d="M148.85,284.32 L152.12,286.06 L148.01,286.38 L144.70,284.97Z" fill="#e71e20" stroke="#c4191b" stroke-width="0.6" stroke-linejoin="round"/>
<path d="M129.68,293.34 L133.48,289.53 L129.73,290.39 L125.98,292.96Z" fill="#ec494a" stroke="#b23737" stroke-width="0.6" stroke-linejoin="round"/>
<path d="M99.16,306.40 L103.32,303.34 L100.21,303.19 L96.11,306.21Z" fill="#f9c8c8" stroke="#6a5555" stroke-width="0.6" stroke-linejoin="round"/>
<path d="M87.62,312.66 L91.91,309.36 L89.07,309.33 L84.79,312.14Z" fill="#fef1f1" stroke="#5f5a5a" stroke-width="0.6" stroke-linejoin="round"/>
<path d="M118.23,299.51 L122.14,296.09 L118.61,295.19 L114.68,297.72Z" fill="#f17a7b" stroke="#8c4747" stroke-width="0.6" stroke-linejoin="round"/>
<path d="M168.13,290.25 L171.09,290.46 L166.65,289.74 L163.73,288.72Z" fill="#ea3537" stroke="#c62d2e" stroke-width="0.6" stroke-linejoin="round"/>
<path d="M106.62,304.37 L110.70,301.06 L107.37,300.30 L103.32,303.34Z" fill="#f6a8a9" stroke="#765051" stroke-width="0.6" stroke-linejoin="round"/>
<path d="M75.81,317.67 L80.36,314.89 L77.61,313.79 L73.04,316.13Z" fill="#fffefe" stroke="#5c5b5b" stroke-width="0.6" stroke-linejoin="round"/>
<path d="M125.83,297.80 L129.68,293.34 L125.98,292.96 L122.14,296.09Z" fill="#ee5f60" stroke="#9e3f40" stroke-width="0.6" stroke-linejoin="round"/>
<path d="M137.40,288.87 L141.16,285.41 L137.17,287.12 L133.48,289.53Z" fill="#e82426" stroke="#c51e20" stroke-width="0.6" stroke-linejoin="round"/>
<path d="M160.64,288.05 L163.73,288.72 L159.38,288.34 L156.34,286.58Z" fill="#e82527" stroke="#c51f21" stroke-width="0.6" stroke-linejoin="round"/>
<path d="M94.91,309.66 L99.16,306.40 L96.11,306.21 L91.91,309.36Z" fill="#fbd6d7" stroke="#665757" stroke-width="0.6" stroke-linejoin="round"/>
<path d="M114.22,303.12 L118.23,299.51 L114.68,297.72 L110.70,301.06Z" fill="#f38e8f" stroke="#814b4c" stroke-width="0.6" stroke-linejoin="round"/>
<path d="M83.23,316.04 L87.62,312.66 L84.79,312.14 L80.36,314.89Z" fill="#fef8f8" stroke="#5d5b5b" stroke-width="0.6" stroke-linejoin="round"/>
<path d="M153.06,285.67 L156.34,286.58 L152.12,286.06 L148.85,284.32Z" fill="#e71719" stroke="#c41315" stroke-width="0.6" stroke-linejoin="round"/>
<path d="M121.90,302.22 L125.83,297.80 L122.14,296.09 L118.23,299.51Z" fill="#f17b7c" stroke="#8b4748" stroke-width="0.6" stroke-linejoin="round"/>
<path d="M102.42,307.47 L106.62,304.37 L103.32,303.34 L99.16,306.40Z" fill="#f8b9b9" stroke="#6f5353" stroke-width="0.6" stroke-linejoin="round"/>
<path d="M145.33,284.30 L148.85,284.32 L144.70,284.97 L141.16,285.41Z" fill="#e61315" stroke="#c31011" stroke-width="0.6" stroke-linejoin="round"/>
<path d="M133.54,294.22 L137.40,288.87 L133.48,289.53 L129.68,293.34Z" fill="#ea3738" stroke="#c62e2f" stroke-width="0.6" stroke-linejoin="round"/>
<path d="M172.44,293.63 L175.48,292.78 L171.09,290.46 L168.13,290.25Z" fill="#ea383a" stroke="#c42f30" stroke-width="0.6" stroke-linejoin="round"/>
<path d="M71.13,320.51 L75.81,317.67 L73.04,316.13 L68.33,318.57Z" fill="#ffffff" stroke="#5c5c5c" stroke-width="0.6" stroke-linejoin="round"/>
<path d="M90.61,313.45 L94.91,309.66 L91.91,309.36 L87.62,312.66Z" fill="#fce4e5" stroke="#625959" stroke-width="0.6" stroke-linejoin="round"/>
<path d="M110.13,306.61 L114.22,303.12 L110.70,301.06 L106.62,304.37Z" fill="#f5a4a4" stroke="#775050" stroke-width="0.6" stroke-linejoin="round"/>
<path d="M78.71,319.40 L83.23,316.04 L80.36,314.89 L75.81,317.67Z" fill="#fffcfc" stroke="#5c5b5b" stroke-width="0.6" stroke-linejoin="round"/>
<path d="M129.63,300.15 L133.54,294.22 L129.68,293.34 L125.83,297.80Z" fill="#ee5a5b" stroke="#a23d3e" stroke-width="0.6" stroke-linejoin="round"/>
<path d="M164.97,290.68 L168.13,290.25 L163.73,288.72 L160.64,288.05Z" fill="#e82426" stroke="#c51e20" stroke-width="0.6" stroke-linejoin="round"/>
<path d="M117.90,306.22 L121.90,302.22 L118.23,299.51 L114.22,303.12Z" fill="#f49697" stroke="#7d4d4d" stroke-width="0.6" stroke-linejoin="round"/>
<path d="M176.51,299.40 L179.49,298.44 L175.48,292.78 L172.44,293.63Z" fill="#ed5556" stroke="#a73b3c" stroke-width="0.6" stroke-linejoin="round"/>
<path d="M98.10,310.62 L102.42,307.47 L99.16,306.40 L94.91,309.66Z" fill="#f9c8c8" stroke="#6a5555" stroke-width="0.6" stroke-linejoin="round"/>
<path d="M180.41,306.55 L183.34,305.28 L179.49,298.44 L176.51,299.40Z" fill="#f38f90" stroke="#814c4c" stroke-width="0.6" stroke-linejoin="round"/>
<path d="M184.26,313.94 L187.15,312.38 L183.34,305.28 L180.41,306.55Z" fill="#fad0d0" stroke="#685656" stroke-width="0.6" stroke-linejoin="round"/>
<path d="M188.24,320.67 L191.05,319.03 L187.15,312.38 L184.26,313.94Z" fill="#fef9f9" stroke="#5d5b5b" stroke-width="0.6" stroke-linejoin="round"/>
<path d="M125.70,305.65 L129.63,300.15 L125.83,297.80 L121.90,302.22Z" fill="#f28485" stroke="#86494a" stroke-width="0.6" stroke-linejoin="round"/>
<path d="M86.24,317.44 L90.61,313.45 L87.62,312.66 L83.23,316.04Z" fill="#fef1f1" stroke="#5f5a5a" stroke-width="0.6" stroke-linejoin="round"/>
<path d="M157.31,288.33 L160.64,288.05 L156.34,286.58 L153.06,285.67Z" fill="#e71618" stroke="#c41214" stroke-width="0.6" stroke-linejoin="round"/>
<path d="M141.47,289.19 L145.33,284.30 L141.16,285.41 L137.40,288.87Z" fill="#e71618" stroke="#c41214" stroke-width="0.6" stroke-linejoin="round"/>
<path d="M105.91,309.91 L110.13,306.61 L106.62,304.37 L102.42,307.47Z" fill="#f7b6b6" stroke="#705353" stroke-width="0.6" stroke-linejoin="round"/>
<path d="M113.79,309.84 L117.90,306.22 L114.22,303.12 L110.13,306.61Z" fill="#f6adae" stroke="#745152" stroke-width="0.6" stroke-linejoin="round"/>
<path d="M149.49,286.94 L153.06,285.67 L148.85,284.32 L145.33,284.30Z" fill="#e61113" stroke="#c30e10" stroke-width="0.6" stroke-linejoin="round"/>
<path d="M74.04,322.66 L78.71,319.40 L75.81,317.67 L71.13,320.51Z" fill="#fffeff" stroke="#5c5b5c" stroke-width="0.6" stroke-linejoin="round"/>
<path d="M137.52,295.77 L141.47,289.19 L137.40,288.87 L133.54,294.22Z" fill="#e92c2e" stroke="#c62527" stroke-width="0.6" stroke-linejoin="round"/>
<path d="M169.23,294.96 L172.44,293.63 L168.13,290.25 L164.97,290.68Z" fill="#e92e30" stroke="#c62728" stroke-width="0.6" stroke-linejoin="round"/>
<path d="M121.68,309.93 L125.70,305.65 L121.90,302.22 L117.90,306.22Z" fill="#f6a7a8" stroke="#765051" stroke-width="0.6" stroke-linejoin="round"/>
<path d="M93.80,314.90 L98.10,310.62 L94.91,309.66 L90.61,313.45Z" fill="#fbd9da" stroke="#655758" stroke-width="0.6" stroke-linejoin="round"/>
<path d="M133.55,302.80 L137.52,295.77 L133.54,294.22 L129.63,300.15Z" fill="#ee5b5c" stroke="#a23d3e" stroke-width="0.6" stroke-linejoin="round"/>
<path d="M81.75,321.36 L86.24,317.44 L83.23,316.04 L78.71,319.40Z" fill="#fefafa" stroke="#5d5b5b" stroke-width="0.6" stroke-linejoin="round"/>
<path d="M129.58,309.39 L133.55,302.80 L129.63,300.15 L125.70,305.65Z" fill="#f49494" stroke="#7f4d4d" stroke-width="0.6" stroke-linejoin="round"/>
<path d="M173.33,301.06 L176.51,299.40 L172.44,293.63 L169.23,294.96Z" fill="#ed4e50" stroke="#ad393a" stroke-width="0.6" stroke-linejoin="round"/>
<path d="M161.61,291.87 L164.97,290.68 L160.64,288.05 L157.31,288.33Z" fill="#e71b1d" stroke="#c41618" stroke-width="0.6" stroke-linejoin="round"/>
<path d="M101.60,313.39 L105.91,309.91 L102.42,307.47 L98.10,310.62Z" fill="#f9c5c6" stroke="#6b5555" stroke-width="0.6" stroke-linejoin="round"/>
<path d="M181.22,315.82 L184.26,313.94 L180.41,306.55 L177.29,308.35Z" fill="#facccc" stroke="#695656" stroke-width="0.6" stroke-linejoin="round"/>
<path d="M177.29,308.35 L180.41,306.55 L176.51,299.40 L173.33,301.06Z" fill="#f3898a" stroke="#844a4b" stroke-width="0.6" stroke-linejoin="round"/>
<path d="M185.28,322.62 L188.24,320.67 L184.26,313.94 L181.22,315.82Z" fill="#fef7f7" stroke="#5d5b5b" stroke-width="0.6" stroke-linejoin="round"/>
<path d="M109.57,313.29 L113.79,309.84 L110.13,306.61 L105.91,309.91Z" fill="#f8c0c0" stroke="#6d5454" stroke-width="0.6" stroke-linejoin="round"/>
<path d="M117.57,313.53 L121.68,309.93 L117.90,306.22 L113.79,309.84Z" fill="#f8bfc0" stroke="#6d5454" stroke-width="0.6" stroke-linejoin="round"/>
<path d="M125.56,313.55 L129.58,309.39 L125.70,305.65 L121.68,309.93Z" fill="#f8bcbc" stroke="#6e5353" stroke-width="0.6" stroke-linejoin="round"/>
<path d="M145.63,291.55 L149.49,286.94 L145.33,284.30 L141.47,289.19Z" fill="#e61415" stroke="#c31111" stroke-width="0.6" stroke-linejoin="round"/>
<path d="M89.42,319.30 L93.80,314.90 L90.61,313.45 L86.24,317.44Z" fill="#fdecec" stroke="#605a5a" stroke-width="0.6" stroke-linejoin="round"/>
<path d="M153.70,290.51 L157.31,288.33 L153.06,285.67 L149.49,286.94Z" fill="#e61315" stroke="#c31011" stroke-width="0.6" stroke-linejoin="round"/>
<path d="M77.09,325.04 L81.75,321.36 L78.71,319.40 L74.04,322.66Z" fill="#fffefe" stroke="#5c5b5b" stroke-width="0.6" stroke-linejoin="round"/>
<path d="M141.63,298.18 L145.63,291.55 L141.47,289.19 L137.52,295.77Z" fill="#e92b2d" stroke="#c62426" stroke-width="0.6" stroke-linejoin="round"/>
<path d="M137.60,305.28 L141.63,298.18 L137.52,295.77 L133.55,302.80Z" fill="#ee6062" stroke="#9d3f41" stroke-width="0.6" stroke-linejoin="round"/>
<path d="M165.86,296.69 L169.23,294.96 L164.97,290.68 L161.61,291.87Z" fill="#e92a2b" stroke="#c62324" stroke-width="0.6" stroke-linejoin="round"/>
<path d="M133.57,311.65 L137.60,305.28 L133.55,302.80 L129.58,309.39Z" fill="#f59e9f" stroke="#7a4e4f" stroke-width="0.6" stroke-linejoin="round"/>
<path d="M97.23,317.43 L101.60,313.39 L98.10,310.62 L93.80,314.90Z" fill="#fbd8d8" stroke="#655757" stroke-width="0.6" stroke-linejoin="round"/>
<path d="M105.24,316.83 L109.57,313.29 L105.91,309.91 L101.60,313.39Z" fill="#fad0d0" stroke="#685656" stroke-width="0.6" stroke-linejoin="round"/>
<path d="M84.92,323.58 L89.42,319.30 L86.24,317.44 L81.75,321.36Z" fill="#fef9f9" stroke="#5d5b5b" stroke-width="0.6" stroke-linejoin="round"/>
<path d="M121.43,317.10 L125.56,313.55 L121.68,309.93 L117.57,313.53Z" fill="#fad1d1" stroke="#675656" stroke-width="0.6" stroke-linejoin="round"/>
<path d="M113.34,317.00 L117.57,313.53 L113.79,309.84 L109.57,313.29Z" fill="#fad0d1" stroke="#685657" stroke-width="0.6" stroke-linejoin="round"/>
<path d="M169.99,303.22 L173.33,301.06 L169.23,294.96 L165.86,296.69Z" fill="#ec4d4f" stroke="#ae383a" stroke-width="0.6" stroke-linejoin="round"/>
<path d="M157.99,294.53 L161.61,291.87 L157.31,288.33 L153.70,290.51Z" fill="#e71b1c" stroke="#c41617" stroke-width="0.6" stroke-linejoin="round"/>
<path d="M149.84,295.11 L153.70,290.51 L149.49,286.94 L145.63,291.55Z" fill="#e7191b" stroke="#c41516" stroke-width="0.6" stroke-linejoin="round"/>
<path d="M129.52,316.42 L133.57,311.65 L129.58,309.39 L125.56,313.55Z" fill="#f9c8c9" stroke="#6a5556" stroke-width="0.6" stroke-linejoin="round"/>
<path d="M178.00,318.26 L181.22,315.82 L177.29,308.35 L174.00,310.71Z" fill="#facccd" stroke="#695656" stroke-width="0.6" stroke-linejoin="round"/>
<path d="M174.00,310.71 L177.29,308.35 L173.33,301.06 L169.99,303.22Z" fill="#f38a8b" stroke="#834a4b" stroke-width="0.6" stroke-linejoin="round"/>
<path d="M182.12,325.12 L185.28,322.62 L181.22,315.82 L178.00,318.26Z" fill="#fef7f7" stroke="#5d5b5b" stroke-width="0.6" stroke-linejoin="round"/>
<path d="M92.78,321.73 L97.23,317.43 L93.80,314.90 L89.42,319.30Z" fill="#fdebeb" stroke="#605959" stroke-width="0.6" stroke-linejoin="round"/>
<path d="M145.82,301.41 L149.84,295.11 L145.63,291.55 L141.63,298.18Z" fill="#ea3537" stroke="#c62d2e" stroke-width="0.6" stroke-linejoin="round"/>
<path d="M141.76,308.15 L145.82,301.41 L141.63,298.18 L137.60,305.28Z" fill="#ef6a6c" stroke="#964244" stroke-width="0.6" stroke-linejoin="round"/>
<path d="M80.27,327.60 L84.92,323.58 L81.75,321.36 L77.09,325.04Z" fill="#fffefe" stroke="#5c5b5b" stroke-width="0.6" stroke-linejoin="round"/>
<path d="M162.29,299.35 L165.86,296.69 L161.61,291.87 L157.99,294.53Z" fill="#e92c2e" stroke="#c62527" stroke-width="0.6" stroke-linejoin="round"/>
<path d="M100.82,320.63 L105.24,316.83 L101.60,313.39 L97.23,317.43Z" fill="#fce0e0" stroke="#635858" stroke-width="0.6" stroke-linejoin="round"/>
<path d="M117.20,320.57 L121.43,317.10 L117.57,313.53 L113.34,317.00Z" fill="#fcdfdf" stroke="#645858" stroke-width="0.6" stroke-linejoin="round"/>
<path d="M137.69,314.24 L141.76,308.15 L137.60,305.28 L133.57,311.65Z" fill="#f6a5a5" stroke="#775050" stroke-width="0.6" stroke-linejoin="round"/>
<path d="M109.00,320.51 L113.34,317.00 L109.57,313.29 L105.24,316.83Z" fill="#fcdede" stroke="#645858" stroke-width="0.6" stroke-linejoin="round"/>
<path d="M154.11,299.28 L157.99,294.53 L153.70,290.51 L149.84,295.11Z" fill="#e82628" stroke="#c52022" stroke-width="0.6" stroke-linejoin="round"/>
<path d="M125.39,320.22 L129.52,316.42 L125.56,313.55 L121.43,317.10Z" fill="#fbdddd" stroke="#645858" stroke-width="0.6" stroke-linejoin="round"/>
<path d="M166.43,306.21 L169.99,303.22 L165.86,296.69 L162.29,299.35Z" fill="#ed5354" stroke="#a83b3b" stroke-width="0.6" stroke-linejoin="round"/>
<path d="M88.22,325.96 L92.78,321.73 L89.42,319.30 L84.92,323.58Z" fill="#fef8f8" stroke="#5d5b5b" stroke-width="0.6" stroke-linejoin="round"/>
<path d="M170.52,313.66 L174.00,310.71 L169.99,303.22 L166.43,306.21Z" fill="#f49293" stroke="#7f4c4d" stroke-width="0.6" stroke-linejoin="round"/>
<path d="M174.61,321.11 L178.00,318.26 L174.00,310.71 L170.52,313.66Z" fill="#fad2d2" stroke="#675757" stroke-width="0.6" stroke-linejoin="round"/>
<path d="M133.61,319.14 L137.69,314.24 L133.57,311.65 L129.52,316.42Z" fill="#facdce" stroke="#695656" stroke-width="0.6" stroke-linejoin="round"/>
<path d="M150.08,305.37 L154.11,299.28 L149.84,295.11 L145.82,301.41Z" fill="#ec4849" stroke="#b33637" stroke-width="0.6" stroke-linejoin="round"/>
<path d="M178.81,328.00 L182.12,325.12 L178.00,318.26 L174.61,321.11Z" fill="#fef9f9" stroke="#5d5b5b" stroke-width="0.6" stroke-linejoin="round"/>
<path d="M158.40,304.28 L162.29,299.35 L157.99,294.53 L154.11,299.28Z" fill="#eb3e3f" stroke="#bd3232" stroke-width="0.6" stroke-linejoin="round"/>
<path d="M96.30,324.60 L100.82,320.63 L97.23,317.43 L92.78,321.73Z" fill="#fdefef" stroke="#5f5a5a" stroke-width="0.6" stroke-linejoin="round"/>
<path d="M146.01,311.77 L150.08,305.37 L145.82,301.41 L141.76,308.15Z" fill="#f17c7d" stroke="#8b4748" stroke-width="0.6" stroke-linejoin="round"/>
<path d="M104.54,324.05 L109.00,320.51 L105.24,316.83 L100.82,320.63Z" fill="#fdeaea" stroke="#615959" stroke-width="0.6" stroke-linejoin="round"/>
<path d="M112.84,324.08 L117.20,320.57 L113.34,317.00 L109.00,320.51Z" fill="#fdeaea" stroke="#615959" stroke-width="0.6" stroke-linejoin="round"/>
<path d="M121.14,323.69 L125.39,320.22 L121.43,317.10 L117.20,320.57Z" fill="#fde9e9" stroke="#615959" stroke-width="0.6" stroke-linejoin="round"/>
<path d="M141.93,317.59 L146.01,311.77 L141.76,308.15 L137.69,314.24Z" fill="#f7b1b2" stroke="#725252" stroke-width="0.6" stroke-linejoin="round"/>
<path d="M162.66,310.44 L166.43,306.21 L162.29,299.35 L158.40,304.28Z" fill="#ef6869" stroke="#984242" stroke-width="0.6" stroke-linejoin="round"/>
<path d="M83.50,329.93 L88.22,325.96 L84.92,323.58 L80.27,327.60Z" fill="#fffefe" stroke="#5c5b5b" stroke-width="0.6" stroke-linejoin="round"/>
<path d="M129.46,323.07 L133.61,319.14 L129.52,316.42 L125.39,320.22Z" fill="#fce3e3" stroke="#625959" stroke-width="0.6" stroke-linejoin="round"/>
<path d="M154.39,310.06 L158.40,304.28 L154.11,299.28 L150.08,305.37Z" fill="#ef6465" stroke="#9b4041" stroke-width="0.6" stroke-linejoin="round"/>
<path d="M166.88,317.22 L170.52,313.66 L166.43,306.21 L162.66,310.44Z" fill="#f5a3a4" stroke="#784f50" stroke-width="0.6" stroke-linejoin="round"/>
<path d="M171.13,324.01 L174.61,321.11 L170.52,313.66 L166.88,317.22Z" fill="#fbdbdb" stroke="#655858" stroke-width="0.6" stroke-linejoin="round"/>
<path d="M137.83,322.23 L141.93,317.59 L137.69,314.24 L133.61,319.14Z" fill="#fbd5d5" stroke="#665757" stroke-width="0.6" stroke-linejoin="round"/>
<path d="M150.33,316.01 L154.39,310.06 L150.08,305.37 L146.01,311.77Z" fill="#f49697" stroke="#7d4d4d" stroke-width="0.6" stroke-linejoin="round"/>
<path d="M91.66,328.59 L96.30,324.60 L92.78,321.73 L88.22,325.96Z" fill="#fef9f9" stroke="#5d5b5b" stroke-width="0.6" stroke-linejoin="round"/>
<path d="M175.50,330.28 L178.81,328.00 L174.61,321.11 L171.13,324.01Z" fill="#fffbfb" stroke="#5d5b5b" stroke-width="0.6" stroke-linejoin="round"/>
<path d="M158.73,315.41 L162.66,310.44 L158.40,304.28 L154.39,310.06Z" fill="#f38c8d" stroke="#824b4b" stroke-width="0.6" stroke-linejoin="round"/>
<path d="M99.96,327.71 L104.54,324.05 L100.82,320.63 L96.30,324.60Z" fill="#fef4f4" stroke="#5e5a5a" stroke-width="0.6" stroke-linejoin="round"/>
<path d="M108.35,327.38 L112.84,324.08 L109.00,320.51 L104.54,324.05Z" fill="#fef2f2" stroke="#5f5a5a" stroke-width="0.6" stroke-linejoin="round"/>
<path d="M146.25,321.54 L150.33,316.01 L146.01,311.77 L141.93,317.59Z" fill="#f9c4c4" stroke="#6c5555" stroke-width="0.6" stroke-linejoin="round"/>
<path d="M116.76,327.07 L121.14,323.69 L117.20,320.57 L112.84,324.08Z" fill="#fef1f1" stroke="#5f5a5a" stroke-width="0.6" stroke-linejoin="round"/>
<path d="M125.20,326.51 L129.46,323.07 L125.39,320.22 L121.14,323.69Z" fill="#fdeeee" stroke="#5f5a5a" stroke-width="0.6" stroke-linejoin="round"/>
<path d="M163.10,321.21 L166.88,317.22 L162.66,310.44 L158.73,315.41Z" fill="#f8bbbc" stroke="#6f5354" stroke-width="0.6" stroke-linejoin="round"/>
<path d="M154.74,320.52 L158.73,315.41 L154.39,310.06 L150.33,316.01Z" fill="#f7b5b6" stroke="#715253" stroke-width="0.6" stroke-linejoin="round"/>
<path d="M133.67,325.99 L137.83,322.23 L133.61,319.14 L129.46,323.07Z" fill="#fde7e8" stroke="#615959" stroke-width="0.6" stroke-linejoin="round"/>
<path d="M86.87,332.43 L91.66,328.59 L88.22,325.96 L83.50,329.93Z" fill="#fffefe" stroke="#5c5b5b" stroke-width="0.6" stroke-linejoin="round"/>
<path d="M167.52,327.11 L171.13,324.01 L166.88,317.22 L163.10,321.21Z" fill="#fce5e5" stroke="#625959" stroke-width="0.6" stroke-linejoin="round"/>
<path d="M142.18,325.66 L146.25,321.54 L141.93,317.59 L137.83,322.23Z" fill="#fce0e0" stroke="#635858" stroke-width="0.6" stroke-linejoin="round"/>
<path d="M95.24,331.45 L99.96,327.71 L96.30,324.60 L91.66,328.59Z" fill="#fffbfb" stroke="#5d5b5b" stroke-width="0.6" stroke-linejoin="round"/>
<path d="M150.71,325.25 L154.74,320.52 L150.33,316.01 L146.25,321.54Z" fill="#fbd7d7" stroke="#665757" stroke-width="0.6" stroke-linejoin="round"/>
<path d="M172.05,332.75 L175.50,330.28 L171.13,324.01 L167.52,327.11Z" fill="#fffcfc" stroke="#5c5b5b" stroke-width="0.6" stroke-linejoin="round"/>
<path d="M159.22,325.35 L163.10,321.21 L158.73,315.41 L154.74,320.52Z" fill="#fbd4d5" stroke="#675757" stroke-width="0.6" stroke-linejoin="round"/>
<path d="M103.72,330.82 L108.35,327.38 L104.54,324.05 L99.96,327.71Z" fill="#fef8f8" stroke="#5d5b5b" stroke-width="0.6" stroke-linejoin="round"/>
<path d="M112.25,330.40 L116.76,327.07 L112.84,324.08 L108.35,327.38Z" fill="#fef7f7" stroke="#5d5b5b" stroke-width="0.6" stroke-linejoin="round"/>
<path d="M120.80,329.83 L125.20,326.51 L121.14,323.69 L116.76,327.07Z" fill="#fef4f4" stroke="#5e5a5a" stroke-width="0.6" stroke-linejoin="round"/>
<path d="M129.40,329.29 L133.67,325.99 L129.46,323.07 L125.20,326.51Z" fill="#fdf0f1" stroke="#5f5a5a" stroke-width="0.6" stroke-linejoin="round"/>
<path d="M138.02,329.13 L142.18,325.66 L137.83,322.23 L133.67,325.99Z" fill="#fdeded" stroke="#605a5a" stroke-width="0.6" stroke-linejoin="round"/>
<path d="M163.79,330.41 L167.52,327.11 L163.10,321.21 L159.22,325.35Z" fill="#fdeeee" stroke="#5f5a5a" stroke-width="0.6" stroke-linejoin="round"/>
<path d="M146.65,329.18 L150.71,325.25 L146.25,321.54 L142.18,325.66Z" fill="#fdeaea" stroke="#615959" stroke-width="0.6" stroke-linejoin="round"/>
<path d="M155.28,329.33 L159.22,325.35 L154.74,320.52 L150.71,325.25Z" fill="#fde8e8" stroke="#615959" stroke-width="0.6" stroke-linejoin="round"/>
<path d="M90.38,335.15 L95.24,331.45 L91.66,328.59 L86.87,332.43Z" fill="#fffefe" stroke="#5c5b5b" stroke-width="0.6" stroke-linejoin="round"/>
<path d="M98.95,334.39 L103.72,330.82 L99.96,327.71 L95.24,331.45Z" fill="#fffdfd" stroke="#5c5b5b" stroke-width="0.6" stroke-linejoin="round"/>
<path d="M168.45,335.46 L172.05,332.75 L167.52,327.11 L163.79,330.41Z" fill="#fffdfd" stroke="#5c5b5b" stroke-width="0.6" stroke-linejoin="round"/>
<path d="M107.59,333.80 L112.25,330.40 L108.35,327.38 L103.72,330.82Z" fill="#fffbfb" stroke="#5d5b5b" stroke-width="0.6" stroke-linejoin="round"/>
<path d="M116.26,333.19 L120.80,329.83 L116.76,327.07 L112.25,330.40Z" fill="#fef9f9" stroke="#5d5b5b" stroke-width="0.6" stroke-linejoin="round"/>
<path d="M124.99,332.51 L129.40,329.29 L125.20,326.51 L120.80,329.83Z" fill="#fef6f6" stroke="#5e5b5b" stroke-width="0.6" stroke-linejoin="round"/>
<path d="M159.94,333.74 L163.79,330.41 L159.22,325.35 L155.28,329.33Z" fill="#fef6f6" stroke="#5e5b5b" stroke-width="0.6" stroke-linejoin="round"/>
<path d="M133.75,332.26 L138.02,329.13 L133.67,325.99 L129.40,329.29Z" fill="#fef3f3" stroke="#5e5a5a" stroke-width="0.6" stroke-linejoin="round"/>
<path d="M142.51,332.53 L146.65,329.18 L142.18,325.66 L138.02,329.13Z" fill="#fef3f3" stroke="#5e5a5a" stroke-width="0.6" stroke-linejoin="round"/>
<path d="M151.26,332.93 L155.28,329.33 L150.71,325.25 L146.65,329.18Z" fill="#fef3f3" stroke="#5e5a5a" stroke-width="0.6" stroke-linejoin="round"/>
<path d="M94.03,338.02 L98.95,334.39 L95.24,331.45 L90.38,335.15Z" fill="#ffffff" stroke="#5c5c5c" stroke-width="0.6" stroke-linejoin="round"/>
<path d="M102.78,337.33 L107.59,333.80 L103.72,330.82 L98.95,334.39Z" fill="#fffefe" stroke="#5c5b5b" stroke-width="0.6" stroke-linejoin="round"/>
<path d="M164.71,338.33 L168.45,335.46 L163.79,330.41 L159.94,333.74Z" fill="#fffefe" stroke="#5c5b5b" stroke-width="0.6" stroke-linejoin="round"/>
<path d="M111.58,336.67 L116.26,333.19 L112.25,330.40 L107.59,333.80Z" fill="#fffcfc" stroke="#5c5b5b" stroke-width="0.6" stroke-linejoin="round"/>
<path d="M120.43,335.94 L124.99,332.51 L120.80,329.83 L116.26,333.19Z" fill="#fef9f9" stroke="#5d5b5b" stroke-width="0.6" stroke-linejoin="round"/>
<path d="M155.98,336.99 L159.94,333.74 L155.28,329.33 L151.26,332.93Z" fill="#fefafa" stroke="#5d5b5b" stroke-width="0.6" stroke-linejoin="round"/>
<path d="M147.14,336.18 L151.26,332.93 L146.65,329.18 L142.51,332.53Z" fill="#fef8f8" stroke="#5d5b5b" stroke-width="0.6" stroke-linejoin="round"/>
<path d="M129.33,335.32 L133.75,332.26 L129.40,329.29 L124.99,332.51Z" fill="#fef6f7" stroke="#5e5b5b" stroke-width="0.6" stroke-linejoin="round"/>
<path d="M138.25,335.62 L142.51,332.53 L138.02,329.13 L133.75,332.26Z" fill="#fef7f7" stroke="#5d5b5b" stroke-width="0.6" stroke-linejoin="round"/>
<path d="M97.81,340.92 L102.78,337.33 L98.95,334.39 L94.03,338.02Z" fill="#ffffff" stroke="#5c5c5c" stroke-width="0.6" stroke-linejoin="round"/>
<path d="M106.74,340.25 L111.58,336.67 L107.59,333.80 L102.78,337.33Z" fill="#fffefe" stroke="#5c5b5b" stroke-width="0.6" stroke-linejoin="round"/>
<path d="M160.84,341.29 L164.71,338.33 L159.94,333.74 L155.98,336.99Z" fill="#fffefe" stroke="#5c5b5b" stroke-width="0.6" stroke-linejoin="round"/>
<path d="M115.72,339.54 L120.43,335.94 L116.26,333.19 L111.58,336.67Z" fill="#fffcfc" stroke="#5c5b5b" stroke-width="0.6" stroke-linejoin="round"/>
<path d="M151.91,340.11 L155.98,336.99 L151.26,332.93 L147.14,336.18Z" fill="#fffcfc" stroke="#5c5b5b" stroke-width="0.6" stroke-linejoin="round"/>
<path d="M142.90,339.27 L147.14,336.18 L142.51,332.53 L138.25,335.62Z" fill="#fefafa" stroke="#5d5b5b" stroke-width="0.6" stroke-linejoin="round"/>
<path d="M124.76,338.85 L129.33,335.32 L124.99,332.51 L120.43,335.94Z" fill="#fef9f9" stroke="#5d5b5b" stroke-width="0.6" stroke-linejoin="round"/>
<path d="M133.84,338.73 L138.25,335.62 L133.75,332.26 L129.33,335.32Z" fill="#fef8f9" stroke="#5d5b5b" stroke-width="0.6" stroke-linejoin="round"/>
<path d="M101.73,343.90 L106.74,340.25 L102.78,337.33 L97.81,340.92Z" fill="#ffffff" stroke="#5c5c5c" stroke-width="0.6" stroke-linejoin="round"/>
<path d="M156.82,344.27 L160.84,341.29 L155.98,336.99 L151.91,340.11Z" fill="#ffffff" stroke="#5c5c5c" stroke-width="0.6" stroke-linejoin="round"/>
<path d="M110.86,343.23 L115.72,339.54 L111.58,336.67 L106.74,340.25Z" fill="#fffefe" stroke="#5c5b5b" stroke-width="0.6" stroke-linejoin="round"/>
<path d="M147.70,343.16 L151.91,340.11 L147.14,336.18 L142.90,339.27Z" fill="#fffdfd" stroke="#5c5b5b" stroke-width="0.6" stroke-linejoin="round"/>
<path d="M120.03,342.53 L124.76,338.85 L120.43,335.94 L115.72,339.54Z" fill="#fffcfc" stroke="#5c5b5b" stroke-width="0.6" stroke-linejoin="round"/>
<path d="M138.50,342.40 L142.90,339.27 L138.25,335.62 L133.84,338.73Z" fill="#fffbfb" stroke="#5d5b5b" stroke-width="0.6" stroke-linejoin="round"/>
<path d="M129.26,342.13 L133.84,338.73 L129.33,335.32 L124.76,338.85Z" fill="#fffafa" stroke="#5d5b5b" stroke-width="0.6" stroke-linejoin="round"/>
<path d="M105.82,346.97 L110.86,343.23 L106.74,340.25 L101.73,343.90Z" fill="#ffffff" stroke="#5c5c5c" stroke-width="0.6" stroke-linejoin="round"/>
<path d="M152.65,347.26 L156.82,344.27 L151.91,340.11 L147.70,343.16Z" fill="#ffffff" stroke="#5c5c5c" stroke-width="0.6" stroke-linejoin="round"/>
<path d="M115.14,346.31 L120.03,342.53 L115.72,339.54 L110.86,343.23Z" fill="#fffefe" stroke="#5c5b5b" stroke-width="0.6" stroke-linejoin="round"/>
<path d="M143.33,346.26 L147.70,343.16 L142.90,339.27 L138.50,342.40Z" fill="#fffefe" stroke="#5c5b5b" stroke-width="0.6" stroke-linejoin="round"/>
<path d="M124.51,345.76 L129.26,342.13 L124.76,338.85 L120.03,342.53Z" fill="#fffdfd" stroke="#5c5b5b" stroke-width="0.6" stroke-linejoin="round"/>
<path d="M133.93,345.72 L138.50,342.40 L133.84,338.73 L129.26,342.13Z" fill="#fffcfc" stroke="#5c5b5b" stroke-width="0.6" stroke-linejoin="round"/>
<path d="M110.07,350.16 L115.14,346.31 L110.86,343.23 L105.82,346.97Z" fill="#ffffff" stroke="#5c5c5c" stroke-width="0.6" stroke-linejoin="round"/>
<path d="M148.32,350.34 L152.65,347.26 L147.70,343.16 L143.33,346.26Z" fill="#ffffff" stroke="#5c5c5c" stroke-width="0.6" stroke-linejoin="round"/>
<path d="M119.60,349.52 L124.51,345.76 L120.03,342.53 L115.14,346.31Z" fill="#fffefe" stroke="#5c5b5b" stroke-width="0.6" stroke-linejoin="round"/>
<path d="M138.77,349.53 L143.33,346.26 L138.50,342.40 L133.93,345.72Z" fill="#fffefe" stroke="#5c5b5b" stroke-width="0.6" stroke-linejoin="round"/>
<path d="M129.18,349.24 L133.93,345.72 L129.26,342.13 L124.51,345.76Z" fill="#fffdfd" stroke="#5c5b5b" stroke-width="0.6" stroke-linejoin="round"/>
<path d="M114.49,353.39 L119.60,349.52 L115.14,346.31 L110.07,350.16Z" fill="#ffffff" stroke="#5c5c5c" stroke-width="0.6" stroke-linejoin="round"/>
<path d="M143.79,353.60 L148.32,350.34 L143.33,346.26 L138.77,349.53Z" fill="#ffffff" stroke="#5c5c5c" stroke-width="0.6" stroke-linejoin="round"/>
<path d="M124.25,352.94 L129.18,349.24 L124.51,345.76 L119.60,349.52Z" fill="#fffefe" stroke="#5c5b5b" stroke-width="0.6" stroke-linejoin="round"/>
<path d="M134.03,352.98 L138.77,349.53 L133.93,345.72 L129.18,349.24Z" fill="#fffefe" stroke="#5c5b5b" stroke-width="0.6" stroke-linejoin="round"/>
<path d="M119.12,356.81 L124.25,352.94 L119.60,349.52 L114.49,353.39Z" fill="#ffffff" stroke="#5c5c5c" stroke-width="0.6" stroke-linejoin="round"/>
<path d="M139.07,357.03 L143.79,353.60 L138.77,349.53 L134.03,352.98Z" fill="#ffffff" stroke="#5c5c5c" stroke-width="0.6" stroke-linejoin="round"/>
<path d="M129.09,356.61 L134.03,352.98 L129.18,349.24 L124.25,352.94Z" fill="#ffffff" stroke="#5c5c5c" stroke-width="0.6" stroke-linejoin="round"/>
<path d="M123.95,360.48 L129.09,356.61 L124.25,352.94 L119.12,356.81Z" fill="#ffffff" stroke="#5c5c5c" stroke-width="0.6" stroke-linejoin="round"/>
<path d="M134.15,360.64 L139.07,357.03 L134.03,352.98 L129.09,356.61Z" fill="#ffffff" stroke="#5c5c5c" stroke-width="0.6" stroke-linejoin="round"/>
<path d="M129.00,364.49 L134.15,360.64 L129.09,356.61 L123.95,360.48Z" fill="#ffffff" stroke="#5c5c5c" stroke-width="0.6" stroke-linejoin="round"/>
<line x1="306.94" y1="336.27" x2="364.90" y2="307.65" stroke="#efefef" stroke-width="0.8"/>
<line x1="303.33" y1="318.57" x2="364.91" y2="292.19" stroke="#efefef" stroke-width="0.8"/>
<line x1="299.24" y1="298.50" x2="364.93" y2="275.12" stroke="#efefef" stroke-width="0.8"/>
<line x1="294.66" y1="276.06" x2="364.95" y2="256.58" stroke="#efefef" stroke-width="0.8"/>
<line x1="309.77" y1="350.13" x2="294.66" y2="276.06" stroke="#efefef" stroke-width="0.8"/>
<line x1="325.83" y1="341.35" x2="315.90" y2="270.17" stroke="#efefef" stroke-width="0.8"/>
<line x1="340.22" y1="333.49" x2="334.37" y2="265.06" stroke="#efefef" stroke-width="0.8"/>
<line x1="353.17" y1="326.42" x2="350.60" y2="260.56" stroke="#efefef" stroke-width="0.8"/>
<line x1="364.89" y1="320.01" x2="364.95" y2="256.58" stroke="#efefef" stroke-width="0.8"/>
<line x1="422.41" y1="336.77" x2="364.90" y2="307.65" stroke="#efefef" stroke-width="0.8"/>
<line x1="426.05" y1="319.03" x2="364.91" y2="292.19" stroke="#efefef" stroke-width="0.8"/>
<line x1="430.17" y1="298.91" x2="364.93" y2="275.12" stroke="#efefef" stroke-width="0.8"/>
<line x1="434.79" y1="276.41" x2="364.95" y2="256.58" stroke="#efefef" stroke-width="0.8"/>
<line x1="419.57" y1="350.65" x2="434.79" y2="276.41" stroke="#efefef" stroke-width="0.8"/>
<line x1="403.59" y1="341.70" x2="413.63" y2="270.40" stroke="#efefef" stroke-width="0.8"/>
<line x1="389.32" y1="333.70" x2="395.26" y2="265.19" stroke="#efefef" stroke-width="0.8"/>
<line x1="376.48" y1="326.51" x2="379.17" y2="260.62" stroke="#efefef" stroke-width="0.8"/>
<line x1="364.89" y1="320.01" x2="364.95" y2="256.58" stroke="#efefef" stroke-width="0.8"/>
<line x1="364.08" y1="399.55" x2="309.77" y2="350.13" stroke="#efefef" stroke-width="0.8"/>
<line x1="380.92" y1="384.71" x2="325.83" y2="341.35" stroke="#efefef" stroke-width="0.8"/>
<line x1="395.52" y1="371.84" x2="340.22" y2="333.49" stroke="#efefef" stroke-width="0.8"/>
<line x1="408.29" y1="360.58" x2="353.17" y2="326.42" stroke="#efefef" stroke-width="0.8"/>
<line x1="419.57" y1="350.65" x2="364.89" y2="320.01" stroke="#efefef" stroke-width="0.8"/>
<line x1="364.08" y1="399.55" x2="419.57" y2="350.65" stroke="#efefef" stroke-width="0.8"/>
<line x1="347.56" y1="384.52" x2="403.59" y2="341.70" stroke="#efefef" stroke-width="0.8"/>
<line x1="333.27" y1="371.51" x2="389.32" y2="333.70" stroke="#efefef" stroke-width="0.8"/>
<line x1="320.78" y1="360.14" x2="376.48" y2="326.51" stroke="#efefef" stroke-width="0.8"/>
<line x1="309.77" y1="350.13" x2="364.89" y2="320.01" stroke="#efefef" stroke-width="0.8"/>
<path d="M364.89,283.99 L368.06,285.61 L364.92,287.22 L361.76,285.57Z" fill="#facece" stroke="#685656" stroke-width="0.6" stroke-linejoin="round"/>
<path d="M368.17,282.00 L371.34,283.73 L368.06,285.61 L364.89,283.99Z" fill="#f6aaab" stroke="#755151" stroke-width="0.6" stroke-linejoin="round"/>
<path d="M361.58,281.81 L364.89,283.99 L361.76,285.57 L358.44,283.53Z" fill="#f6a9aa" stroke="#755051" stroke-width="0.6" stroke-linejoin="round"/>
<path d="M371.61,280.18 L374.77,282.06 L371.34,283.73 L368.17,282.00Z" fill="#f28485" stroke="#86494a" stroke-width="0.6" stroke-linejoin="round"/>
<path d="M364.86,279.76 L368.17,282.00 L364.89,283.99 L361.58,281.81Z" fill="#f28384" stroke="#874949" stroke-width="0.6" stroke-linejoin="round"/>
<path d="M358.10,279.83 L361.58,281.81 L358.44,283.53 L354.98,281.72Z" fill="#f28182" stroke="#884849" stroke-width="0.6" stroke-linejoin="round"/>
<path d="M354.48,278.74 L358.10,279.83 L354.98,281.72 L351.38,280.62Z" fill="#ee6061" stroke="#9e3f40" stroke-width="0.6" stroke-linejoin="round"/>
<path d="M375.21,278.77 L378.35,280.75 L374.77,282.06 L371.61,280.18Z" fill="#ef6263" stroke="#9c4040" stroke-width="0.6" stroke-linejoin="round"/>
<path d="M368.31,277.81 L371.61,280.18 L368.17,282.00 L364.86,279.76Z" fill="#ee5d5e" stroke="#a03e3f" stroke-width="0.6" stroke-linejoin="round"/>
<path d="M361.38,277.71 L364.86,279.76 L361.58,281.81 L358.10,279.83Z" fill="#ee5b5c" stroke="#a23d3e" stroke-width="0.6" stroke-linejoin="round"/>
<path d="M350.76,279.01 L354.48,278.74 L351.38,280.62 L347.70,280.99Z" fill="#ec4e4f" stroke="#ad3939" stroke-width="0.6" stroke-linejoin="round"/>
<path d="M378.95,277.87 L382.08,279.51 L378.35,280.75 L375.21,278.77Z" fill="#ec4748" stroke="#b43636" stroke-width="0.6" stroke-linejoin="round"/>
<path d="M357.74,276.63 L361.38,277.71 L358.10,279.83 L354.48,278.74Z" fill="#eb3e3f" stroke="#bd3232" stroke-width="0.6" stroke-linejoin="round"/>
<path d="M371.91,276.45 L375.21,278.77 L371.61,280.18 L368.31,277.81Z" fill="#eb3e40" stroke="#bd3233" stroke-width="0.6" stroke-linejoin="round"/>
<path d="M364.82,275.61 L368.31,277.81 L364.86,279.76 L361.38,277.71Z" fill="#ea393b" stroke="#c32f31" stroke-width="0.6" stroke-linejoin="round"/>
<path d="M346.96,280.41 L350.76,279.01 L347.70,280.99 L343.94,282.34Z" fill="#ec494b" stroke="#b23738" stroke-width="0.6" stroke-linejoin="round"/>
<path d="M382.81,277.70 L385.95,278.87 L382.08,279.51 L378.95,277.87Z" fill="#ea3436" stroke="#c62c2d" stroke-width="0.6" stroke-linejoin="round"/>
<path d="M353.99,277.00 L357.74,276.63 L354.48,278.74 L350.76,279.01Z" fill="#e92f31" stroke="#c62729" stroke-width="0.6" stroke-linejoin="round"/>
<path d="M375.66,276.03 L378.95,277.87 L375.21,278.77 L371.91,276.45Z" fill="#e92b2c" stroke="#c62425" stroke-width="0.6" stroke-linejoin="round"/>
<path d="M361.17,274.50 L364.82,275.61 L361.38,277.71 L357.74,276.63Z" fill="#e82325" stroke="#c51d1f" stroke-width="0.6" stroke-linejoin="round"/>
<path d="M343.09,282.51 L346.96,280.41 L343.94,282.34 L340.12,284.37Z" fill="#ec4d4e" stroke="#ae3839" stroke-width="0.6" stroke-linejoin="round"/>
<path d="M368.44,274.29 L371.91,276.45 L368.31,277.81 L364.82,275.61Z" fill="#e82224" stroke="#c51c1e" stroke-width="0.6" stroke-linejoin="round"/>
<path d="M350.15,278.57 L353.99,277.00 L350.76,279.01 L346.96,280.41Z" fill="#e92c2e" stroke="#c62527" stroke-width="0.6" stroke-linejoin="round"/>
<path d="M339.12,284.77 L343.09,282.51 L340.12,284.37 L336.22,286.69Z" fill="#ed5556" stroke="#a73b3c" stroke-width="0.6" stroke-linejoin="round"/>
<path d="M386.78,278.38 L389.92,278.97 L385.95,278.87 L382.81,277.70Z" fill="#e9292b" stroke="#c62224" stroke-width="0.6" stroke-linejoin="round"/>
<path d="M379.52,276.57 L382.81,277.70 L378.95,277.87 L375.66,276.03Z" fill="#e82022" stroke="#c51b1c" stroke-width="0.6" stroke-linejoin="round"/>
<path d="M357.39,275.31 L361.17,274.50 L357.74,276.63 L353.99,277.00Z" fill="#e71a1c" stroke="#c41617" stroke-width="0.6" stroke-linejoin="round"/>
<path d="M372.19,274.58 L375.66,276.03 L371.91,276.45 L368.44,274.29Z" fill="#e7181a" stroke="#c41416" stroke-width="0.6" stroke-linejoin="round"/>
<path d="M364.78,273.07 L368.44,274.29 L364.82,275.61 L361.17,274.50Z" fill="#e61416" stroke="#c31112" stroke-width="0.6" stroke-linejoin="round"/>
<path d="M346.22,280.76 L350.15,278.57 L346.96,280.41 L343.09,282.51Z" fill="#e93031" stroke="#c62829" stroke-width="0.6" stroke-linejoin="round"/>
<path d="M335.01,286.78 L339.12,284.77 L336.22,286.69 L332.14,288.27Z" fill="#ee5b5c" stroke="#a23d3e" stroke-width="0.6" stroke-linejoin="round"/>
<path d="M390.83,279.86 L394.00,279.75 L389.92,278.97 L386.78,278.38Z" fill="#e82527" stroke="#c51f21" stroke-width="0.6" stroke-linejoin="round"/>
<path d="M383.48,278.02 L386.78,278.38 L382.81,277.70 L379.52,276.57Z" fill="#e71c1e" stroke="#c41719" stroke-width="0.6" stroke-linejoin="round"/>
<path d="M353.52,277.38 L357.39,275.31 L353.99,277.00 L350.15,278.57Z" fill="#e71a1b" stroke="#c41616" stroke-width="0.6" stroke-linejoin="round"/>
<path d="M342.19,283.12 L346.22,280.76 L343.09,282.51 L339.12,284.77Z" fill="#ea3638" stroke="#c62d2f" stroke-width="0.6" stroke-linejoin="round"/>
<path d="M376.05,276.04 L379.52,276.57 L375.66,276.03 L372.19,274.58Z" fill="#e61416" stroke="#c31112" stroke-width="0.6" stroke-linejoin="round"/>
<path d="M330.79,288.92 L335.01,286.78 L332.14,288.27 L327.96,290.13Z" fill="#ee5f60" stroke="#9e3f40" stroke-width="0.6" stroke-linejoin="round"/>
<path d="M360.99,274.83 L364.78,273.07 L361.17,274.50 L357.39,275.31Z" fill="#e61113" stroke="#c30e10" stroke-width="0.6" stroke-linejoin="round"/>
<path d="M368.54,274.44 L372.19,274.58 L368.44,274.29 L364.78,273.07Z" fill="#e61113" stroke="#c30e10" stroke-width="0.6" stroke-linejoin="round"/>
<path d="M394.95,282.04 L398.18,280.92 L394.00,279.75 L390.83,279.86Z" fill="#e82527" stroke="#c51f21" stroke-width="0.6" stroke-linejoin="round"/>
<path d="M349.56,279.87 L353.52,277.38 L350.15,278.57 L346.22,280.76Z" fill="#e71d1f" stroke="#c4181a" stroke-width="0.6" stroke-linejoin="round"/>
<path d="M387.50,280.44 L390.83,279.86 L386.78,278.38 L383.48,278.02Z" fill="#e71d1e" stroke="#c41819" stroke-width="0.6" stroke-linejoin="round"/>
<path d="M338.05,285.45 L342.19,283.12 L339.12,284.77 L335.01,286.78Z" fill="#eb3d3e" stroke="#bf3132" stroke-width="0.6" stroke-linejoin="round"/>
<path d="M326.53,291.75 L330.79,288.92 L327.96,290.13 L323.74,292.65Z" fill="#ef6768" stroke="#984142" stroke-width="0.6" stroke-linejoin="round"/>
<path d="M380.00,278.29 L383.48,278.02 L379.52,276.57 L376.05,276.04Z" fill="#e61517" stroke="#c31113" stroke-width="0.6" stroke-linejoin="round"/>
<path d="M357.09,277.60 L360.99,274.83 L357.39,275.31 L353.52,277.38Z" fill="#e61214" stroke="#c30f11" stroke-width="0.6" stroke-linejoin="round"/>
<path d="M372.40,276.89 L376.05,276.04 L372.19,274.58 L368.54,274.44Z" fill="#e61113" stroke="#c30e10" stroke-width="0.6" stroke-linejoin="round"/>
<path d="M399.14,284.85 L402.45,282.62 L398.18,280.92 L394.95,282.04Z" fill="#e9282a" stroke="#c62223" stroke-width="0.6" stroke-linejoin="round"/>
<path d="M345.49,282.44 L349.56,279.87 L346.22,280.76 L342.19,283.12Z" fill="#e82224" stroke="#c51c1e" stroke-width="0.6" stroke-linejoin="round"/>
<path d="M364.74,276.44 L368.54,274.44 L364.78,273.07 L360.99,274.83Z" fill="#e61012" stroke="#c30d0f" stroke-width="0.6" stroke-linejoin="round"/>
<path d="M391.55,283.91 L394.95,282.04 L390.83,279.86 L387.50,280.44Z" fill="#e82224" stroke="#c51c1e" stroke-width="0.6" stroke-linejoin="round"/>
<path d="M333.79,287.92 L338.05,285.45 L335.01,286.78 L330.79,288.92Z" fill="#eb4345" stroke="#b83436" stroke-width="0.6" stroke-linejoin="round"/>
<path d="M322.30,295.74 L326.53,291.75 L323.74,292.65 L319.52,296.15Z" fill="#f17879" stroke="#8d4647" stroke-width="0.6" stroke-linejoin="round"/>
<path d="M384.01,281.60 L387.50,280.44 L383.48,278.02 L380.00,278.29Z" fill="#e7181a" stroke="#c41416" stroke-width="0.6" stroke-linejoin="round"/>
<path d="M353.11,280.54 L357.09,277.60 L353.52,277.38 L349.56,279.87Z" fill="#e71517" stroke="#c41113" stroke-width="0.6" stroke-linejoin="round"/>
<path d="M318.18,301.13 L322.30,295.74 L319.52,296.15 L315.44,301.11Z" fill="#f49797" stroke="#7d4d4d" stroke-width="0.6" stroke-linejoin="round"/>
<path d="M403.35,288.34 L406.79,284.91 L402.45,282.62 L399.14,284.85Z" fill="#e93032" stroke="#c6282a" stroke-width="0.6" stroke-linejoin="round"/>
<path d="M376.35,279.91 L380.00,278.29 L376.05,276.04 L372.40,276.89Z" fill="#e61214" stroke="#c30f11" stroke-width="0.6" stroke-linejoin="round"/>
<path d="M395.62,288.26 L399.14,284.85 L394.95,282.04 L391.55,283.91Z" fill="#e92d2f" stroke="#c62627" stroke-width="0.6" stroke-linejoin="round"/>
<path d="M341.31,285.06 L345.49,282.44 L342.19,283.12 L338.05,285.45Z" fill="#e9292b" stroke="#c62224" stroke-width="0.6" stroke-linejoin="round"/>
<path d="M360.83,279.71 L364.74,276.44 L360.99,274.83 L357.09,277.60Z" fill="#e61113" stroke="#c30e10" stroke-width="0.6" stroke-linejoin="round"/>
<path d="M368.59,279.55 L372.40,276.89 L368.54,274.44 L364.74,276.44Z" fill="#e61113" stroke="#c30e10" stroke-width="0.6" stroke-linejoin="round"/>
<path d="M314.16,307.46 L318.18,301.13 L315.44,301.11 L311.42,306.82Z" fill="#f8bfc0" stroke="#6d5454" stroke-width="0.6" stroke-linejoin="round"/>
<path d="M329.48,291.01 L333.79,287.92 L330.79,288.92 L326.53,291.75Z" fill="#ec4d4e" stroke="#ae3839" stroke-width="0.6" stroke-linejoin="round"/>
<path d="M388.01,286.44 L391.55,283.91 L387.50,280.44 L384.01,281.60Z" fill="#e82224" stroke="#c51c1e" stroke-width="0.6" stroke-linejoin="round"/>
<path d="M310.16,314.04 L314.16,307.46 L311.42,306.82 L307.41,312.79Z" fill="#fce5e5" stroke="#625959" stroke-width="0.6" stroke-linejoin="round"/>
<path d="M349.02,283.34 L353.11,280.54 L349.56,279.87 L345.49,282.44Z" fill="#e71a1c" stroke="#c41617" stroke-width="0.6" stroke-linejoin="round"/>
<path d="M306.07,320.24 L310.16,314.04 L307.41,312.79 L303.33,318.57Z" fill="#fffcfc" stroke="#5c5b5b" stroke-width="0.6" stroke-linejoin="round"/>
<path d="M399.69,293.28 L403.35,288.34 L399.14,284.85 L395.62,288.26Z" fill="#eb4041" stroke="#bb3333" stroke-width="0.6" stroke-linejoin="round"/>
<path d="M407.51,293.09 L411.10,288.38 L406.79,284.91 L403.35,288.34Z" fill="#eb3f41" stroke="#bc3234" stroke-width="0.6" stroke-linejoin="round"/>
<path d="M380.36,283.71 L384.01,281.60 L380.00,278.29 L376.35,279.91Z" fill="#e71719" stroke="#c41315" stroke-width="0.6" stroke-linejoin="round"/>
<path d="M423.14,321.16 L426.05,319.03 L422.23,311.93 L419.12,314.72Z" fill="#fffbfb" stroke="#5d5b5b" stroke-width="0.6" stroke-linejoin="round"/>
<path d="M356.85,283.27 L360.83,279.71 L357.09,277.60 L353.11,280.54Z" fill="#e71517" stroke="#c41113" stroke-width="0.6" stroke-linejoin="round"/>
<path d="M419.12,314.72 L422.23,311.93 L418.56,303.98 L415.27,307.37Z" fill="#fbdcdc" stroke="#645858" stroke-width="0.6" stroke-linejoin="round"/>
<path d="M391.98,292.29 L395.62,288.26 L391.55,283.91 L388.01,286.44Z" fill="#ea3839" stroke="#c42f2f" stroke-width="0.6" stroke-linejoin="round"/>
<path d="M372.52,283.50 L376.35,279.91 L372.40,276.89 L368.59,279.55Z" fill="#e61416" stroke="#c31112" stroke-width="0.6" stroke-linejoin="round"/>
<path d="M364.69,283.49 L368.59,279.55 L364.74,276.44 L360.83,279.71Z" fill="#e61416" stroke="#c31112" stroke-width="0.6" stroke-linejoin="round"/>
<path d="M337.02,287.72 L341.31,285.06 L338.05,285.45 L333.79,287.92Z" fill="#e93031" stroke="#c62829" stroke-width="0.6" stroke-linejoin="round"/>
<path d="M415.27,307.37 L418.56,303.98 L414.90,295.81 L411.45,299.82Z" fill="#f5a3a3" stroke="#784f4f" stroke-width="0.6" stroke-linejoin="round"/>
<path d="M325.21,295.37 L329.48,291.01 L326.53,291.75 L322.30,295.74Z" fill="#ee6061" stroke="#9e3f40" stroke-width="0.6" stroke-linejoin="round"/>
<path d="M411.45,299.82 L414.90,295.81 L411.10,288.38 L407.51,293.09Z" fill="#ef6567" stroke="#9a4142" stroke-width="0.6" stroke-linejoin="round"/>
<path d="M403.75,298.89 L407.51,293.09 L403.35,288.34 L399.69,293.28Z" fill="#ee5c5e" stroke="#a13e3f" stroke-width="0.6" stroke-linejoin="round"/>
<path d="M395.94,298.65 L399.69,293.28 L395.62,288.26 L391.98,292.29Z" fill="#ee5a5b" stroke="#a23d3e" stroke-width="0.6" stroke-linejoin="round"/>
<path d="M384.32,289.76 L388.01,286.44 L384.01,281.60 L380.36,283.71Z" fill="#e82729" stroke="#c52122" stroke-width="0.6" stroke-linejoin="round"/>
<path d="M321.06,301.31 L325.21,295.37 L322.30,295.74 L318.18,301.13Z" fill="#f28182" stroke="#884849" stroke-width="0.6" stroke-linejoin="round"/>
<path d="M344.82,286.31 L349.02,283.34 L345.49,282.44 L341.31,285.06Z" fill="#e82123" stroke="#c51c1d" stroke-width="0.6" stroke-linejoin="round"/>
<path d="M407.79,305.01 L411.45,299.82 L407.51,293.09 L403.75,298.89Z" fill="#f28788" stroke="#854a4a" stroke-width="0.6" stroke-linejoin="round"/>
<path d="M399.94,304.91 L403.75,298.89 L399.69,293.28 L395.94,298.65Z" fill="#f28486" stroke="#86494a" stroke-width="0.6" stroke-linejoin="round"/>
<path d="M388.26,296.51 L391.98,292.29 L388.01,286.44 L384.32,289.76Z" fill="#ec484a" stroke="#b33638" stroke-width="0.6" stroke-linejoin="round"/>
<path d="M411.83,311.38 L415.27,307.37 L411.45,299.82 L407.79,305.01Z" fill="#f8bbbb" stroke="#6f5353" stroke-width="0.6" stroke-linejoin="round"/>
<path d="M376.51,288.29 L380.36,283.71 L376.35,279.91 L372.52,283.50Z" fill="#e71e20" stroke="#c4191b" stroke-width="0.6" stroke-linejoin="round"/>
<path d="M368.61,288.32 L372.52,283.50 L368.59,279.55 L364.69,283.49Z" fill="#e71d1f" stroke="#c4181a" stroke-width="0.6" stroke-linejoin="round"/>
<path d="M360.71,287.78 L364.69,283.49 L360.83,279.71 L356.85,283.27Z" fill="#e71d1f" stroke="#c4181a" stroke-width="0.6" stroke-linejoin="round"/>
<path d="M352.77,286.60 L356.85,283.27 L353.11,280.54 L349.02,283.34Z" fill="#e71c1e" stroke="#c41719" stroke-width="0.6" stroke-linejoin="round"/>
<path d="M317.05,308.33 L321.06,301.31 L318.18,301.13 L314.16,307.46Z" fill="#f7b0b1" stroke="#735252" stroke-width="0.6" stroke-linejoin="round"/>
<path d="M415.92,317.60 L419.12,314.72 L415.27,307.37 L411.83,311.38Z" fill="#fce6e6" stroke="#615959" stroke-width="0.6" stroke-linejoin="round"/>
<path d="M313.06,315.56 L317.05,308.33 L314.16,307.46 L310.16,314.04Z" fill="#fcdede" stroke="#645858" stroke-width="0.6" stroke-linejoin="round"/>
<path d="M392.20,303.57 L395.94,298.65 L391.98,292.29 L388.26,296.51Z" fill="#f17879" stroke="#8d4647" stroke-width="0.6" stroke-linejoin="round"/>
<path d="M404.07,310.36 L407.79,305.01 L403.75,298.89 L399.94,304.91Z" fill="#f7afb0" stroke="#735152" stroke-width="0.6" stroke-linejoin="round"/>
<path d="M308.97,322.24 L313.06,315.56 L310.16,314.04 L306.07,320.24Z" fill="#fefafa" stroke="#5d5b5b" stroke-width="0.6" stroke-linejoin="round"/>
<path d="M332.63,290.77 L337.02,287.72 L333.79,287.92 L329.48,291.01Z" fill="#ea393b" stroke="#c32f31" stroke-width="0.6" stroke-linejoin="round"/>
<path d="M420.15,323.29 L423.14,321.16 L419.12,314.72 L415.92,317.60Z" fill="#fffcfc" stroke="#5c5b5b" stroke-width="0.6" stroke-linejoin="round"/>
<path d="M396.15,310.44 L399.94,304.91 L395.94,298.65 L392.20,303.57Z" fill="#f6acac" stroke="#745151" stroke-width="0.6" stroke-linejoin="round"/>
<path d="M380.50,294.18 L384.32,289.76 L380.36,283.71 L376.51,288.29Z" fill="#ea3537" stroke="#c62d2e" stroke-width="0.6" stroke-linejoin="round"/>
<path d="M372.58,293.65 L376.51,288.29 L372.52,283.50 L368.61,288.32Z" fill="#e93133" stroke="#c6292b" stroke-width="0.6" stroke-linejoin="round"/>
<path d="M364.63,293.43 L368.61,288.32 L364.69,283.49 L360.71,287.78Z" fill="#e93032" stroke="#c6282a" stroke-width="0.6" stroke-linejoin="round"/>
<path d="M408.30,315.51 L411.83,311.38 L407.79,305.01 L404.07,310.36Z" fill="#fbd4d5" stroke="#675757" stroke-width="0.6" stroke-linejoin="round"/>
<path d="M400.40,314.96 L404.07,310.36 L399.94,304.91 L396.15,310.44Z" fill="#fad1d1" stroke="#675656" stroke-width="0.6" stroke-linejoin="round"/>
<path d="M384.49,300.65 L388.26,296.51 L384.32,289.76 L380.50,294.18Z" fill="#ee5e60" stroke="#9f3e40" stroke-width="0.6" stroke-linejoin="round"/>
<path d="M356.65,291.62 L360.71,287.78 L356.85,283.27 L352.77,286.60Z" fill="#e9292b" stroke="#c62224" stroke-width="0.6" stroke-linejoin="round"/>
<path d="M340.50,289.08 L344.82,286.31 L341.31,285.06 L337.02,287.72Z" fill="#e8282a" stroke="#c52223" stroke-width="0.6" stroke-linejoin="round"/>
<path d="M388.50,307.21 L392.20,303.57 L388.26,296.51 L384.49,300.65Z" fill="#f49293" stroke="#7f4c4d" stroke-width="0.6" stroke-linejoin="round"/>
<path d="M348.57,289.65 L352.77,286.60 L349.02,283.34 L344.82,286.31Z" fill="#e82426" stroke="#c51e20" stroke-width="0.6" stroke-linejoin="round"/>
<path d="M412.61,320.63 L415.92,317.60 L411.83,311.38 L408.30,315.51Z" fill="#fdeff0" stroke="#5f5a5a" stroke-width="0.6" stroke-linejoin="round"/>
<path d="M392.58,313.23 L396.15,310.44 L392.20,303.57 L388.50,307.21Z" fill="#f9c3c3" stroke="#6c5454" stroke-width="0.6" stroke-linejoin="round"/>
<path d="M376.59,299.12 L380.50,294.18 L376.51,288.29 L372.58,293.65Z" fill="#ed5052" stroke="#ab393b" stroke-width="0.6" stroke-linejoin="round"/>
<path d="M368.60,299.19 L372.58,293.65 L368.61,288.32 L364.63,293.43Z" fill="#ed4f51" stroke="#ac393a" stroke-width="0.6" stroke-linejoin="round"/>
<path d="M328.28,295.18 L332.63,290.77 L329.48,291.01 L325.21,295.37Z" fill="#ec4b4c" stroke="#b03738" stroke-width="0.6" stroke-linejoin="round"/>
<path d="M360.60,297.82 L364.63,293.43 L360.71,287.78 L356.65,291.62Z" fill="#ec4648" stroke="#b53537" stroke-width="0.6" stroke-linejoin="round"/>
<path d="M404.77,319.23 L408.30,315.51 L404.07,310.36 L400.40,314.96Z" fill="#fde7e8" stroke="#615959" stroke-width="0.6" stroke-linejoin="round"/>
<path d="M380.65,304.65 L384.49,300.65 L380.50,294.18 L376.59,299.12Z" fill="#f1797a" stroke="#8d4647" stroke-width="0.6" stroke-linejoin="round"/>
<path d="M417.03,325.60 L420.15,323.29 L415.92,317.60 L412.61,320.63Z" fill="#fffdfd" stroke="#5c5b5b" stroke-width="0.6" stroke-linejoin="round"/>
<path d="M396.85,318.00 L400.40,314.96 L396.15,310.44 L392.58,313.23Z" fill="#fce1e1" stroke="#635858" stroke-width="0.6" stroke-linejoin="round"/>
<path d="M324.12,301.79 L328.28,295.18 L325.21,295.37 L321.06,301.31Z" fill="#f06e6f" stroke="#944344" stroke-width="0.6" stroke-linejoin="round"/>
<path d="M372.63,304.00 L376.59,299.12 L372.58,293.65 L368.60,299.19Z" fill="#f07274" stroke="#914546" stroke-width="0.6" stroke-linejoin="round"/>
<path d="M316.13,317.55 L320.11,309.62 L317.05,308.33 L313.06,315.56Z" fill="#fbd8d9" stroke="#655758" stroke-width="0.6" stroke-linejoin="round"/>
<path d="M364.58,304.21 L368.60,299.19 L364.63,293.43 L360.60,297.82Z" fill="#f06f71" stroke="#934445" stroke-width="0.6" stroke-linejoin="round"/>
<path d="M312.04,324.75 L316.13,317.55 L313.06,315.56 L308.97,322.24Z" fill="#fef9f9" stroke="#5d5b5b" stroke-width="0.6" stroke-linejoin="round"/>
<path d="M320.11,309.62 L324.12,301.79 L321.06,301.31 L317.05,308.33Z" fill="#f5a3a4" stroke="#784f50" stroke-width="0.6" stroke-linejoin="round"/>
<path d="M352.47,294.69 L356.65,291.62 L352.77,286.60 L348.57,289.65Z" fill="#ea3537" stroke="#c62d2e" stroke-width="0.6" stroke-linejoin="round"/>
<path d="M384.77,310.15 L388.50,307.21 L384.49,300.65 L380.65,304.65Z" fill="#f6a5a6" stroke="#775050" stroke-width="0.6" stroke-linejoin="round"/>
<path d="M336.07,291.97 L340.50,289.08 L337.02,287.72 L332.63,290.77Z" fill="#e93032" stroke="#c6282a" stroke-width="0.6" stroke-linejoin="round"/>
<path d="M344.24,292.46 L348.57,289.65 L344.82,286.31 L340.50,289.08Z" fill="#e92c2e" stroke="#c62527" stroke-width="0.6" stroke-linejoin="round"/>
<path d="M409.24,323.60 L412.61,320.63 L408.30,315.51 L404.77,319.23Z" fill="#fef6f6" stroke="#5e5b5b" stroke-width="0.6" stroke-linejoin="round"/>
<path d="M376.75,308.41 L380.65,304.65 L376.59,299.12 L372.63,304.00Z" fill="#f49495" stroke="#7e4d4d" stroke-width="0.6" stroke-linejoin="round"/>
<path d="M368.62,308.10 L372.63,304.00 L368.60,299.19 L364.58,304.21Z" fill="#f49293" stroke="#7f4c4d" stroke-width="0.6" stroke-linejoin="round"/>
<path d="M388.97,315.39 L392.58,313.23 L388.50,307.21 L384.77,310.15Z" fill="#facbcb" stroke="#695656" stroke-width="0.6" stroke-linejoin="round"/>
<path d="M356.45,300.66 L360.60,297.82 L356.65,291.62 L352.47,294.69Z" fill="#ed5758" stroke="#a53c3d" stroke-width="0.6" stroke-linejoin="round"/>
<path d="M401.26,322.21 L404.77,319.23 L400.40,314.96 L396.85,318.00Z" fill="#fdf1f1" stroke="#5f5a5a" stroke-width="0.6" stroke-linejoin="round"/>
<path d="M360.46,306.36 L364.58,304.21 L360.60,297.82 L356.45,300.66Z" fill="#f28183" stroke="#884849" stroke-width="0.6" stroke-linejoin="round"/>
<path d="M413.81,328.00 L417.03,325.60 L412.61,320.63 L409.24,323.60Z" fill="#fffefe" stroke="#5c5b5b" stroke-width="0.6" stroke-linejoin="round"/>
<path d="M393.28,320.15 L396.85,318.00 L392.58,313.23 L388.97,315.39Z" fill="#fce4e4" stroke="#625959" stroke-width="0.6" stroke-linejoin="round"/>
<path d="M380.95,312.85 L384.77,310.15 L380.65,304.65 L376.75,308.41Z" fill="#f7b3b3" stroke="#725252" stroke-width="0.6" stroke-linejoin="round"/>
<path d="M331.60,295.88 L336.07,291.97 L332.63,290.77 L328.28,295.18Z" fill="#eb3f40" stroke="#bc3233" stroke-width="0.6" stroke-linejoin="round"/>
<path d="M348.15,297.38 L352.47,294.69 L348.57,289.65 L344.24,292.46Z" fill="#eb3f41" stroke="#bc3234" stroke-width="0.6" stroke-linejoin="round"/>
<path d="M315.27,327.60 L319.37,319.93 L316.13,317.55 L312.04,324.75Z" fill="#fefafa" stroke="#5d5b5b" stroke-width="0.6" stroke-linejoin="round"/>
<path d="M372.76,311.69 L376.75,308.41 L372.63,304.00 L368.62,308.10Z" fill="#f6a9aa" stroke="#755051" stroke-width="0.6" stroke-linejoin="round"/>
<path d="M319.37,319.93 L323.38,311.59 L320.11,309.62 L316.13,317.55Z" fill="#fbd6d7" stroke="#665757" stroke-width="0.6" stroke-linejoin="round"/>
<path d="M339.81,295.52 L344.24,292.46 L340.50,289.08 L336.07,291.97Z" fill="#ea3536" stroke="#c62d2d" stroke-width="0.6" stroke-linejoin="round"/>
<path d="M364.52,310.71 L368.62,308.10 L364.58,304.21 L360.46,306.36Z" fill="#f5a2a3" stroke="#784f50" stroke-width="0.6" stroke-linejoin="round"/>
<path d="M405.80,326.39 L409.24,323.60 L404.77,319.23 L401.26,322.21Z" fill="#fefafa" stroke="#5d5b5b" stroke-width="0.6" stroke-linejoin="round"/>
<path d="M323.38,311.59 L327.43,303.26 L324.12,301.79 L320.11,309.62Z" fill="#f59c9c" stroke="#7b4e4e" stroke-width="0.6" stroke-linejoin="round"/>
<path d="M327.43,303.26 L331.60,295.88 L328.28,295.18 L324.12,301.79Z" fill="#ee6163" stroke="#9d4041" stroke-width="0.6" stroke-linejoin="round"/>
<path d="M352.15,302.93 L356.45,300.66 L352.47,294.69 L348.15,297.38Z" fill="#ee5f61" stroke="#9e3f40" stroke-width="0.6" stroke-linejoin="round"/>
<path d="M385.24,317.38 L388.97,315.39 L384.77,310.15 L380.95,312.85Z" fill="#facece" stroke="#685656" stroke-width="0.6" stroke-linejoin="round"/>
<path d="M397.72,324.58 L401.26,322.21 L396.85,318.00 L393.28,320.15Z" fill="#fef3f3" stroke="#5e5a5a" stroke-width="0.6" stroke-linejoin="round"/>
<path d="M356.19,308.24 L360.46,306.36 L356.45,300.66 L352.15,302.93Z" fill="#f28586" stroke="#86494a" stroke-width="0.6" stroke-linejoin="round"/>
<path d="M377.02,315.41 L380.95,312.85 L376.75,308.41 L372.76,311.69Z" fill="#f8bdbd" stroke="#6e5454" stroke-width="0.6" stroke-linejoin="round"/>
<path d="M343.73,300.45 L348.15,297.38 L344.24,292.46 L339.81,295.52Z" fill="#ec484a" stroke="#b33638" stroke-width="0.6" stroke-linejoin="round"/>
<path d="M410.44,330.65 L413.81,328.00 L409.24,323.60 L405.80,326.39Z" fill="#fffefe" stroke="#5c5b5b" stroke-width="0.6" stroke-linejoin="round"/>
<path d="M335.36,299.89 L339.81,295.52 L336.07,291.97 L331.60,295.88Z" fill="#eb4345" stroke="#b83436" stroke-width="0.6" stroke-linejoin="round"/>
<path d="M368.68,314.36 L372.76,311.69 L368.62,308.10 L364.52,310.71Z" fill="#f7b4b5" stroke="#715253" stroke-width="0.6" stroke-linejoin="round"/>
<path d="M389.61,322.06 L393.28,320.15 L388.97,315.39 L385.24,317.38Z" fill="#fce3e3" stroke="#625959" stroke-width="0.6" stroke-linejoin="round"/>
<path d="M318.46,329.69 L322.72,322.38 L319.37,319.93 L315.27,327.60Z" fill="#fefafa" stroke="#5d5b5b" stroke-width="0.6" stroke-linejoin="round"/>
<path d="M322.72,322.38 L326.87,314.37 L323.38,311.59 L319.37,319.93Z" fill="#fbd8d8" stroke="#655757" stroke-width="0.6" stroke-linejoin="round"/>
<path d="M402.29,328.91 L405.80,326.39 L401.26,322.21 L397.72,324.58Z" fill="#fffbfb" stroke="#5d5b5b" stroke-width="0.6" stroke-linejoin="round"/>
<path d="M360.28,312.80 L364.52,310.71 L360.46,306.36 L356.19,308.24Z" fill="#f5a3a4" stroke="#784f50" stroke-width="0.6" stroke-linejoin="round"/>
<path d="M347.73,305.71 L352.15,302.93 L348.15,297.38 L343.73,300.45Z" fill="#ef6768" stroke="#984142" stroke-width="0.6" stroke-linejoin="round"/>
<path d="M331.05,306.50 L335.36,299.89 L331.60,295.88 L327.43,303.26Z" fill="#ef6567" stroke="#9a4142" stroke-width="0.6" stroke-linejoin="round"/>
<path d="M326.87,314.37 L331.05,306.50 L327.43,303.26 L323.38,311.59Z" fill="#f59f9f" stroke="#7a4f4f" stroke-width="0.6" stroke-linejoin="round"/>
<path d="M381.37,319.37 L385.24,317.38 L380.95,312.85 L377.02,315.41Z" fill="#facfcf" stroke="#685656" stroke-width="0.6" stroke-linejoin="round"/>
<path d="M339.27,304.76 L343.73,300.45 L339.81,295.52 L335.36,299.89Z" fill="#ee595a" stroke="#a33d3d" stroke-width="0.6" stroke-linejoin="round"/>
<path d="M394.09,326.72 L397.72,324.58 L393.28,320.15 L389.61,322.06Z" fill="#fef2f2" stroke="#5f5a5a" stroke-width="0.6" stroke-linejoin="round"/>
<path d="M351.79,310.73 L356.19,308.24 L352.15,302.93 L347.73,305.71Z" fill="#f38889" stroke="#844a4a" stroke-width="0.6" stroke-linejoin="round"/>
<path d="M372.95,317.98 L377.02,315.41 L372.76,311.69 L368.68,314.36Z" fill="#f9c2c3" stroke="#6c5455" stroke-width="0.6" stroke-linejoin="round"/>
<path d="M406.98,333.24 L410.44,330.65 L405.80,326.39 L402.29,328.91Z" fill="#ffffff" stroke="#5c5c5c" stroke-width="0.6" stroke-linejoin="round"/>
<path d="M364.46,316.76 L368.68,314.36 L364.52,310.71 L360.28,312.80Z" fill="#f7b7b8" stroke="#705353" stroke-width="0.6" stroke-linejoin="round"/>
<path d="M334.87,310.69 L339.27,304.76 L335.36,299.89 L331.05,306.50Z" fill="#f17a7b" stroke="#8c4747" stroke-width="0.6" stroke-linejoin="round"/>
<path d="M343.25,309.66 L347.73,305.71 L343.73,300.45 L339.27,304.76Z" fill="#f17678" stroke="#8f4647" stroke-width="0.6" stroke-linejoin="round"/>
<path d="M330.53,317.78 L334.87,310.69 L331.05,306.50 L326.87,314.37Z" fill="#f6abac" stroke="#745151" stroke-width="0.6" stroke-linejoin="round"/>
<path d="M385.80,324.08 L389.61,322.06 L385.24,317.38 L381.37,319.37Z" fill="#fce1e1" stroke="#635858" stroke-width="0.6" stroke-linejoin="round"/>
<path d="M326.22,325.17 L330.53,317.78 L326.87,314.37 L322.72,322.38Z" fill="#fbdcdd" stroke="#645858" stroke-width="0.6" stroke-linejoin="round"/>
<path d="M321.81,332.08 L326.22,325.17 L322.72,322.38 L318.46,329.69Z" fill="#fefafa" stroke="#5d5b5b" stroke-width="0.6" stroke-linejoin="round"/>
<path d="M398.68,331.27 L402.29,328.91 L397.72,324.58 L394.09,326.72Z" fill="#fffbfb" stroke="#5d5b5b" stroke-width="0.6" stroke-linejoin="round"/>
<path d="M355.90,315.32 L360.28,312.80 L356.19,308.24 L351.79,310.73Z" fill="#f6a5a5" stroke="#775050" stroke-width="0.6" stroke-linejoin="round"/>
<path d="M377.34,321.94 L381.37,319.37 L377.02,315.41 L372.95,317.98Z" fill="#fad0d1" stroke="#685657" stroke-width="0.6" stroke-linejoin="round"/>
<path d="M338.77,315.05 L343.25,309.66 L339.27,304.76 L334.87,310.69Z" fill="#f49394" stroke="#7f4c4d" stroke-width="0.6" stroke-linejoin="round"/>
<path d="M347.29,314.28 L351.79,310.73 L347.73,305.71 L343.25,309.66Z" fill="#f49495" stroke="#7e4d4d" stroke-width="0.6" stroke-linejoin="round"/>
<path d="M368.75,320.55 L372.95,317.98 L368.68,314.36 L364.46,316.76Z" fill="#f9c5c6" stroke="#6b5555" stroke-width="0.6" stroke-linejoin="round"/>
<path d="M390.31,328.90 L394.09,326.72 L389.61,322.06 L385.80,324.08Z" fill="#fdf0f0" stroke="#5f5a5a" stroke-width="0.6" stroke-linejoin="round"/>
<path d="M334.32,321.51 L338.77,315.05 L334.87,310.69 L330.53,317.78Z" fill="#f8bcbc" stroke="#6e5353" stroke-width="0.6" stroke-linejoin="round"/>
<path d="M360.09,319.45 L364.46,316.76 L360.28,312.80 L355.90,315.32Z" fill="#f8b9ba" stroke="#6f5353" stroke-width="0.6" stroke-linejoin="round"/>
<path d="M403.41,335.77 L406.98,333.24 L402.29,328.91 L398.68,331.27Z" fill="#ffffff" stroke="#5c5c5c" stroke-width="0.6" stroke-linejoin="round"/>
<path d="M329.87,328.35 L334.32,321.51 L330.53,317.78 L326.22,325.17Z" fill="#fce3e3" stroke="#625959" stroke-width="0.6" stroke-linejoin="round"/>
<path d="M351.40,318.79 L355.90,315.32 L351.79,310.73 L347.29,314.28Z" fill="#f6adad" stroke="#745151" stroke-width="0.6" stroke-linejoin="round"/>
<path d="M381.81,326.47 L385.80,324.08 L381.37,319.37 L377.34,321.94Z" fill="#fce0e0" stroke="#635858" stroke-width="0.6" stroke-linejoin="round"/>
<path d="M325.35,334.92 L329.87,328.35 L326.22,325.17 L321.81,332.08Z" fill="#fffbfb" stroke="#5d5b5b" stroke-width="0.6" stroke-linejoin="round"/>
<path d="M342.76,319.31 L347.29,314.28 L343.25,309.66 L338.77,315.05Z" fill="#f6abac" stroke="#745151" stroke-width="0.6" stroke-linejoin="round"/>
<path d="M394.95,333.66 L398.68,331.27 L394.09,326.72 L390.31,328.90Z" fill="#fefafa" stroke="#5d5b5b" stroke-width="0.6" stroke-linejoin="round"/>
<path d="M373.16,324.59 L377.34,321.94 L372.95,317.98 L368.75,320.55Z" fill="#fad2d3" stroke="#675657" stroke-width="0.6" stroke-linejoin="round"/>
<path d="M338.22,325.28 L342.76,319.31 L338.77,315.05 L334.32,321.51Z" fill="#facbcc" stroke="#695556" stroke-width="0.6" stroke-linejoin="round"/>
<path d="M364.40,323.32 L368.75,320.55 L364.46,316.76 L360.09,319.45Z" fill="#f9c8c8" stroke="#6a5555" stroke-width="0.6" stroke-linejoin="round"/>
<path d="M386.38,331.31 L390.31,328.90 L385.80,324.08 L381.81,326.47Z" fill="#fdefef" stroke="#5f5a5a" stroke-width="0.6" stroke-linejoin="round"/>
<path d="M355.59,322.89 L360.09,319.45 L355.90,315.32 L351.40,318.79Z" fill="#f8c0c0" stroke="#6d5454" stroke-width="0.6" stroke-linejoin="round"/>
<path d="M346.83,323.42 L351.40,318.79 L347.29,314.28 L342.76,319.31Z" fill="#f8bfbf" stroke="#6d5454" stroke-width="0.6" stroke-linejoin="round"/>
<path d="M333.66,331.69 L338.22,325.28 L334.32,321.51 L329.87,328.35Z" fill="#fdeaea" stroke="#615959" stroke-width="0.6" stroke-linejoin="round"/>
<path d="M399.71,338.33 L403.41,335.77 L398.68,331.27 L394.95,333.66Z" fill="#ffffff" stroke="#5c5c5c" stroke-width="0.6" stroke-linejoin="round"/>
<path d="M329.03,338.02 L333.66,331.69 L329.87,328.35 L325.35,334.92Z" fill="#fffcfc" stroke="#5c5b5b" stroke-width="0.6" stroke-linejoin="round"/>
<path d="M377.67,329.11 L381.81,326.47 L377.34,321.94 L373.16,324.59Z" fill="#fce1e1" stroke="#635858" stroke-width="0.6" stroke-linejoin="round"/>
<path d="M342.21,328.95 L346.83,323.42 L342.76,319.31 L338.22,325.28Z" fill="#fbd8d8" stroke="#655757" stroke-width="0.6" stroke-linejoin="round"/>
<path d="M391.06,336.19 L394.95,333.66 L390.31,328.90 L386.38,331.31Z" fill="#fef9f9" stroke="#5d5b5b" stroke-width="0.6" stroke-linejoin="round"/>
<path d="M368.82,327.36 L373.16,324.59 L368.75,320.55 L364.40,323.32Z" fill="#fbd5d5" stroke="#665757" stroke-width="0.6" stroke-linejoin="round"/>
<path d="M350.99,327.31 L355.59,322.89 L351.40,318.79 L346.83,323.42Z" fill="#facece" stroke="#685656" stroke-width="0.6" stroke-linejoin="round"/>
<path d="M359.89,326.70 L364.40,323.32 L360.09,319.45 L355.59,322.89Z" fill="#facece" stroke="#685656" stroke-width="0.6" stroke-linejoin="round"/>
<path d="M337.55,334.91 L342.21,328.95 L338.22,325.28 L333.66,331.69Z" fill="#fdeff0" stroke="#5f5a5a" stroke-width="0.6" stroke-linejoin="round"/>
<path d="M382.28,333.99 L386.38,331.31 L381.81,326.47 L377.67,329.11Z" fill="#fdeeef" stroke="#5f5a5a" stroke-width="0.6" stroke-linejoin="round"/>
<path d="M395.87,340.99 L399.71,338.33 L394.95,333.66 L391.06,336.19Z" fill="#fffefe" stroke="#5c5b5b" stroke-width="0.6" stroke-linejoin="round"/>
<path d="M332.80,340.82 L337.55,334.91 L333.66,331.69 L329.03,338.02Z" fill="#fffdfd" stroke="#5c5b5b" stroke-width="0.6" stroke-linejoin="round"/>
<path d="M346.32,332.51 L350.99,327.31 L346.83,323.42 L342.21,328.95Z" fill="#fce1e1" stroke="#635858" stroke-width="0.6" stroke-linejoin="round"/>
<path d="M373.36,331.96 L377.67,329.11 L373.16,324.59 L368.82,327.36Z" fill="#fce2e2" stroke="#635858" stroke-width="0.6" stroke-linejoin="round"/>
<path d="M355.27,331.03 L359.89,326.70 L355.59,322.89 L350.99,327.31Z" fill="#fbd9d9" stroke="#655757" stroke-width="0.6" stroke-linejoin="round"/>
<path d="M364.33,330.55 L368.82,327.36 L364.40,323.32 L359.89,326.70Z" fill="#fbd9d9" stroke="#655757" stroke-width="0.6" stroke-linejoin="round"/>
<path d="M387.00,338.97 L391.06,336.19 L386.38,331.31 L382.28,333.99Z" fill="#fef9f9" stroke="#5d5b5b" stroke-width="0.6" stroke-linejoin="round"/>
<path d="M341.57,338.12 L346.32,332.51 L342.21,328.95 L337.55,334.91Z" fill="#fef3f3" stroke="#5e5a5a" stroke-width="0.6" stroke-linejoin="round"/>
<path d="M378.01,336.93 L382.28,333.99 L377.67,329.11 L373.36,331.96Z" fill="#fdefef" stroke="#5f5a5a" stroke-width="0.6" stroke-linejoin="round"/>
<path d="M350.55,336.06 L355.27,331.03 L350.99,327.31 L346.32,332.51Z" fill="#fde8e8" stroke="#615959" stroke-width="0.6" stroke-linejoin="round"/>
<path d="M336.72,343.74 L341.57,338.12 L337.55,334.91 L332.80,340.82Z" fill="#fffefe" stroke="#5c5b5b" stroke-width="0.6" stroke-linejoin="round"/>
<path d="M391.86,343.87 L395.87,340.99 L391.06,336.19 L387.00,338.97Z" fill="#fffefe" stroke="#5c5b5b" stroke-width="0.6" stroke-linejoin="round"/>
<path d="M368.89,335.24 L373.36,331.96 L368.82,327.36 L364.33,330.55Z" fill="#fce4e5" stroke="#625959" stroke-width="0.6" stroke-linejoin="round"/>
<path d="M359.69,334.89 L364.33,330.55 L359.89,326.70 L355.27,331.03Z" fill="#fce1e2" stroke="#635859" stroke-width="0.6" stroke-linejoin="round"/>
<path d="M382.77,342.02 L387.00,338.97 L382.28,333.99 L378.01,336.93Z" fill="#fef9f9" stroke="#5d5b5b" stroke-width="0.6" stroke-linejoin="round"/>
<path d="M345.73,341.44 L350.55,336.06 L346.32,332.51 L341.57,338.12Z" fill="#fef6f6" stroke="#5e5b5b" stroke-width="0.6" stroke-linejoin="round"/>
<path d="M373.57,340.20 L378.01,336.93 L373.36,331.96 L368.89,335.24Z" fill="#fef1f1" stroke="#5f5a5a" stroke-width="0.6" stroke-linejoin="round"/>
<path d="M354.93,339.74 L359.69,334.89 L355.27,331.03 L350.55,336.06Z" fill="#fdedee" stroke="#605a5a" stroke-width="0.6" stroke-linejoin="round"/>
<path d="M364.25,339.20 L368.89,335.24 L364.33,330.55 L359.69,334.89Z" fill="#fdeaeb" stroke="#61595a" stroke-width="0.6" stroke-linejoin="round"/>
<path d="M340.81,346.86 L345.73,341.44 L341.57,338.12 L336.72,343.74Z" fill="#fffefe" stroke="#5c5b5b" stroke-width="0.6" stroke-linejoin="round"/>
<path d="M387.68,347.01 L391.86,343.87 L387.00,338.97 L382.77,342.02Z" fill="#fffefe" stroke="#5c5b5b" stroke-width="0.6" stroke-linejoin="round"/>
<path d="M378.38,345.27 L382.77,342.02 L378.01,336.93 L373.57,340.20Z" fill="#fefafa" stroke="#5d5b5b" stroke-width="0.6" stroke-linejoin="round"/>
<path d="M350.06,344.89 L354.93,339.74 L350.55,336.06 L345.73,341.44Z" fill="#fef8f8" stroke="#5d5b5b" stroke-width="0.6" stroke-linejoin="round"/>
<path d="M368.96,343.84 L373.57,340.20 L368.89,335.24 L364.25,339.20Z" fill="#fef4f4" stroke="#5e5a5a" stroke-width="0.6" stroke-linejoin="round"/>
<path d="M359.47,343.67 L364.25,339.20 L359.69,334.89 L354.93,339.74Z" fill="#fef3f3" stroke="#5e5a5a" stroke-width="0.6" stroke-linejoin="round"/>
<path d="M345.07,350.16 L350.06,344.89 L345.73,341.44 L340.81,346.86Z" fill="#fffefe" stroke="#5c5b5b" stroke-width="0.6" stroke-linejoin="round"/>
<path d="M383.32,350.34 L387.68,347.01 L382.77,342.02 L378.38,345.27Z" fill="#fffefe" stroke="#5c5b5b" stroke-width="0.6" stroke-linejoin="round"/>
<path d="M373.80,348.64 L378.38,345.27 L373.57,340.20 L368.96,343.84Z" fill="#fffbfb" stroke="#5d5b5b" stroke-width="0.6" stroke-linejoin="round"/>
<path d="M354.56,348.44 L359.47,343.67 L354.93,339.74 L350.06,344.89Z" fill="#fffafa" stroke="#5d5b5b" stroke-width="0.6" stroke-linejoin="round"/>
<path d="M364.18,347.84 L368.96,343.84 L364.25,339.20 L359.47,343.67Z" fill="#fef8f8" stroke="#5d5b5b" stroke-width="0.6" stroke-linejoin="round"/>
<path d="M349.49,353.39 L354.56,348.44 L350.06,344.89 L345.07,350.16Z" fill="#fffefe" stroke="#5c5b5b" stroke-width="0.6" stroke-linejoin="round"/>
<path d="M378.80,353.47 L383.32,350.34 L378.38,345.27 L373.80,348.64Z" fill="#fffefe" stroke="#5c5b5b" stroke-width="0.6" stroke-linejoin="round"/>
<path d="M359.23,352.16 L364.18,347.84 L359.47,343.67 L354.56,348.44Z" fill="#fffcfc" stroke="#5c5b5b" stroke-width="0.6" stroke-linejoin="round"/>
<path d="M369.04,352.22 L373.80,348.64 L368.96,343.84 L364.18,347.84Z" fill="#fffcfc" stroke="#5c5b5b" stroke-width="0.6" stroke-linejoin="round"/>
<path d="M354.12,356.81 L359.23,352.16 L354.56,348.44 L349.49,353.39Z" fill="#ffffff" stroke="#5c5c5c" stroke-width="0.6" stroke-linejoin="round"/>
<path d="M374.08,356.80 L378.80,353.47 L373.80,348.64 L369.04,352.22Z" fill="#ffffff" stroke="#5c5c5c" stroke-width="0.6" stroke-linejoin="round"/>
<path d="M364.09,356.12 L369.04,352.22 L364.18,347.84 L359.23,352.16Z" fill="#fffefe" stroke="#5c5b5b" stroke-width="0.6" stroke-linejoin="round"/>
<path d="M358.95,360.47 L364.09,356.12 L359.23,352.16 L354.12,356.81Z" fill="#ffffff" stroke="#5c5c5c" stroke-width="0.6" stroke-linejoin="round"/>
<path d="M369.15,360.43 L374.08,356.80 L369.04,352.22 L364.09,356.12Z" fill="#ffffff" stroke="#5c5c5c" stroke-width="0.6" stroke-linejoin="round"/>
<path d="M364.00,364.49 L369.15,360.43 L364.09,356.12 L358.95,360.47Z" fill="#ffffff" stroke="#5c5c5c" stroke-width="0.6" stroke-linejoin="round"/>
<text x="55.20" y="281.00" font-size="8.6" text-anchor="end" fill="#2a2a2a" stroke="#2a2a2a" stroke-width="0.12" >40</text>
<text x="60.10" y="303.60" font-size="8.6" text-anchor="end" fill="#2a2a2a" stroke="#2a2a2a" stroke-width="0.12" >20</text>
<text x="64.40" y="323.80" font-size="8.6" text-anchor="end" fill="#2a2a2a" stroke="#2a2a2a" stroke-width="0.12" >0</text>
<text x="66.50" y="341.20" font-size="8.6" text-anchor="end" fill="#2a2a2a" stroke="#2a2a2a" stroke-width="0.12" >−20</text>
<text transform="translate(42.40,319.10) rotate(-90)" x="0" y="0" font-size="9.6" font-weight="bold" text-anchor="middle" fill="#222" textLength="28.2" lengthAdjust="spacingAndGlyphs">ZIP score</text>
<text x="68.70" y="360.20" font-size="8.4" text-anchor="middle" fill="#2a2a2a" stroke="#2a2a2a" stroke-width="0.12" >5</text>
<text x="81.30" y="371.10" font-size="8.4" text-anchor="middle" fill="#2a2a2a" stroke="#2a2a2a" stroke-width="0.12" >2.5</text>
<text x="94.00" y="382.20" font-size="8.4" text-anchor="middle" fill="#2a2a2a" stroke="#2a2a2a" stroke-width="0.12" >1</text>
<text x="109.20" y="393.60" font-size="8.4" text-anchor="middle" fill="#2a2a2a" stroke="#2a2a2a" stroke-width="0.12" >0.5</text>
<text x="132.60" y="408.00" font-size="8.4" text-anchor="middle" fill="#2a2a2a" stroke="#2a2a2a" stroke-width="0.12" >0</text>
<text x="155.50" y="394.90" font-size="8.4" text-anchor="middle" fill="#2a2a2a" stroke="#2a2a2a" stroke-width="0.12" >2.5</text>
<text x="165.70" y="381.10" font-size="8.4" text-anchor="middle" fill="#2a2a2a" stroke="#2a2a2a" stroke-width="0.12" >5</text>
<text x="180.70" y="369.80" font-size="8.4" text-anchor="middle" fill="#2a2a2a" stroke="#2a2a2a" stroke-width="0.12" >10</text>
<text x="191.60" y="359.40" font-size="8.4" text-anchor="middle" fill="#2a2a2a" stroke="#2a2a2a" stroke-width="0.12" >25</text>
<text transform="translate(77.00,390.60) rotate(44.3)" x="0" y="2.9" font-size="10" font-weight="bold" text-anchor="middle" fill="#222" textLength="46" lengthAdjust="spacingAndGlyphs">Niraparib (μM)</text>
<text transform="translate(183.80,392.50) rotate(-44)" x="0" y="-0.1" font-size="10" font-weight="bold" text-anchor="middle" fill="#222" textLength="45" lengthAdjust="spacingAndGlyphs">KPT-9274 (nM)</text>
<text x="287.20" y="281.00" font-size="8.6" text-anchor="end" fill="#2a2a2a" stroke="#2a2a2a" stroke-width="0.12" >40</text>
<text x="292.10" y="303.60" font-size="8.6" text-anchor="end" fill="#2a2a2a" stroke="#2a2a2a" stroke-width="0.12" >20</text>
<text x="296.40" y="323.80" font-size="8.6" text-anchor="end" fill="#2a2a2a" stroke="#2a2a2a" stroke-width="0.12" >0</text>
<text x="298.50" y="341.20" font-size="8.6" text-anchor="end" fill="#2a2a2a" stroke="#2a2a2a" stroke-width="0.12" >−20</text>
<text transform="translate(278.90,323.00) rotate(-90)" x="0" y="0" font-size="9.6" font-weight="bold" text-anchor="middle" fill="#222" textLength="28.2" lengthAdjust="spacingAndGlyphs">ZIP score</text>
<text x="300.70" y="360.20" font-size="8.4" text-anchor="middle" fill="#2a2a2a" stroke="#2a2a2a" stroke-width="0.12" >5</text>
<text x="313.30" y="371.10" font-size="8.4" text-anchor="middle" fill="#2a2a2a" stroke="#2a2a2a" stroke-width="0.12" >2.5</text>
<text x="326.00" y="382.20" font-size="8.4" text-anchor="middle" fill="#2a2a2a" stroke="#2a2a2a" stroke-width="0.12" >1</text>
<text x="341.20" y="393.60" font-size="8.4" text-anchor="middle" fill="#2a2a2a" stroke="#2a2a2a" stroke-width="0.12" >0.5</text>
<text x="364.60" y="408.00" font-size="8.4" text-anchor="middle" fill="#2a2a2a" stroke="#2a2a2a" stroke-width="0.12" >0</text>
<text x="389.80" y="393.90" font-size="8.4" text-anchor="middle" fill="#2a2a2a" stroke="#2a2a2a" stroke-width="0.12" >2.5</text>
<text x="400.00" y="380.10" font-size="8.4" text-anchor="middle" fill="#2a2a2a" stroke="#2a2a2a" stroke-width="0.12" >5</text>
<text x="415.00" y="368.80" font-size="8.4" text-anchor="middle" fill="#2a2a2a" stroke="#2a2a2a" stroke-width="0.12" >10</text>
<text x="425.90" y="358.40" font-size="8.4" text-anchor="middle" fill="#2a2a2a" stroke="#2a2a2a" stroke-width="0.12" >25</text>
<text transform="translate(315.40,393.30) rotate(44.3)" x="0" y="2.9" font-size="10" font-weight="bold" text-anchor="middle" fill="#222" textLength="46" lengthAdjust="spacingAndGlyphs">Niraparib (μM)</text>
<text transform="translate(416.30,393.00) rotate(-44)" x="0" y="-0.1" font-size="10" font-weight="bold" text-anchor="middle" fill="#222" textLength="45" lengthAdjust="spacingAndGlyphs">KPT-9274 (nM)</text>
<text x="201.50" y="260.60" font-size="8.3" text-anchor="middle" fill="#b5223f" stroke="#b5223f" stroke-width="0.12" >mean</text>
<text x="201.50" y="271.00" font-size="8.5" text-anchor="middle" fill="#b5223f" stroke="#b5223f" stroke-width="0.12" >ZIP Score:</text>
<text x="201.50" y="280.50" font-size="8.4" text-anchor="middle" fill="#b5223f" stroke="#b5223f" stroke-width="0.12" >10.24</text>
<text x="437.90" y="260.60" font-size="8.3" text-anchor="middle" fill="#b5223f" stroke="#b5223f" stroke-width="0.12" >mean</text>
<text x="437.90" y="271.00" font-size="8.5" text-anchor="middle" fill="#b5223f" stroke="#b5223f" stroke-width="0.12" >ZIP Score:</text>
<text x="437.90" y="280.50" font-size="8.4" text-anchor="middle" fill="#b5223f" stroke="#b5223f" stroke-width="0.12" >17.10</text>
<text x="213.80" y="454.90" font-size="8" text-anchor="middle" fill="#2a2a2a" stroke="#2a2a2a" stroke-width="0.12" >Myeloid cells</text>
<text x="213.80" y="465.15" font-size="8" text-anchor="middle" fill="#2a2a2a" stroke="#2a2a2a" stroke-width="0.12" >dipoloid for</text>
<text x="213.80" y="475.40" font-size="8" text-anchor="middle" fill="#2a2a2a" stroke="#2a2a2a" stroke-width="0.12" >chromosome 7</text>
<text x="317.40" y="454.90" font-size="8" text-anchor="middle" fill="#2a2a2a" stroke="#2a2a2a" stroke-width="0.12" >Myeloid cells</text>
<text x="317.40" y="465.15" font-size="8" text-anchor="middle" fill="#2a2a2a" stroke="#2a2a2a" stroke-width="0.12" >haploid for</text>
<text x="317.40" y="475.40" font-size="8" text-anchor="middle" fill="#2a2a2a" stroke="#2a2a2a" stroke-width="0.12" >chromosome 7</text>
<clipPath id="cp1p"><path d="M197.3,488.1 A5.8,5.8 0 0 1 208.9,488.1 L208.9,513.4000000000001 A5.8,5.2 0 0 1 197.3,513.4000000000001 Z"/></clipPath><clipPath id="cp1q"><path d="M197.3,523.8 A5.8,5.2 0 0 1 208.9,523.8 L208.9,561.0 A5.8,5.8 0 0 1 197.3,561.0 Z"/></clipPath>
<path d="M197.3,488.1 A5.8,5.8 0 0 1 208.9,488.1 L208.9,513.4000000000001 A5.8,5.2 0 0 1 197.3,513.4000000000001 Z" fill="#fff"/>
<path d="M197.3,523.8 A5.8,5.2 0 0 1 208.9,523.8 L208.9,561.0 A5.8,5.8 0 0 1 197.3,561.0 Z" fill="#fff"/>
<g clip-path="url(#cp1p)"><rect x="197.3" y="489.0" width="11.6" height="5.5" fill="#262626"/><rect x="197.3" y="501.4" width="11.6" height="3.1000000000000227" fill="#262626"/><rect x="197.3" y="511.0" width="11.6" height="2.7999999999999545" fill="#262626"/></g>
<g clip-path="url(#cp1q)"><rect x="197.3" y="525.0" width="11.6" height="7.7999999999999545" fill="#262626"/><rect x="197.3" y="536.3" width="11.6" height="11.400000000000091" fill="#262626"/><rect x="197.3" y="553.0" width="11.6" height="2.6000000000000227" fill="#262626"/><rect x="197.3" y="557.4" width="11.6" height="2.6000000000000227" fill="#262626"/></g>
<path d="M197.3,488.1 A5.8,5.8 0 0 1 208.9,488.1 L208.9,513.4000000000001 A5.8,5.2 0 0 1 197.3,513.4000000000001 Z" fill="none" stroke="#111" stroke-width="1.3"/>
<path d="M197.3,523.8 A5.8,5.2 0 0 1 208.9,523.8 L208.9,561.0 A5.8,5.8 0 0 1 197.3,561.0 Z" fill="none" stroke="#111" stroke-width="1.3"/>
<clipPath id="cp2p"><path d="M217.9,488.1 A5.8,5.8 0 0 1 229.5,488.1 L229.5,513.4000000000001 A5.8,5.2 0 0 1 217.9,513.4000000000001 Z"/></clipPath><clipPath id="cp2q"><path d="M217.9,523.8 A5.8,5.2 0 0 1 229.5,523.8 L229.5,561.0 A5.8,5.8 0 0 1 217.9,561.0 Z"/></clipPath>
<path d="M217.9,488.1 A5.8,5.8 0 0 1 229.5,488.1 L229.5,513.4000000000001 A5.8,5.2 0 0 1 217.9,513.4000000000001 Z" fill="#fff"/>
<path d="M217.9,523.8 A5.8,5.2 0 0 1 229.5,523.8 L229.5,561.0 A5.8,5.8 0 0 1 217.9,561.0 Z" fill="#fff"/>
<g clip-path="url(#cp2p)"><rect x="217.9" y="489.0" width="11.6" height="5.5" fill="#262626"/><rect x="217.9" y="501.4" width="11.6" height="3.1000000000000227" fill="#262626"/><rect x="217.9" y="511.0" width="11.6" height="2.7999999999999545" fill="#262626"/></g>
<g clip-path="url(#cp2q)"><rect x="217.9" y="525.0" width="11.6" height="7.7999999999999545" fill="#262626"/><rect x="217.9" y="536.3" width="11.6" height="11.400000000000091" fill="#262626"/><rect x="217.9" y="553.0" width="11.6" height="2.6000000000000227" fill="#262626"/><rect x="217.9" y="557.4" width="11.6" height="2.6000000000000227" fill="#262626"/></g>
<path d="M217.9,488.1 A5.8,5.8 0 0 1 229.5,488.1 L229.5,513.4000000000001 A5.8,5.2 0 0 1 217.9,513.4000000000001 Z" fill="none" stroke="#111" stroke-width="1.3"/>
<path d="M217.9,523.8 A5.8,5.2 0 0 1 229.5,523.8 L229.5,561.0 A5.8,5.8 0 0 1 217.9,561.0 Z" fill="none" stroke="#111" stroke-width="1.3"/>
<clipPath id="cp3p"><path d="M299.5,488.1 A5.8,5.8 0 0 1 311.1,488.1 L311.1,513.4000000000001 A5.8,5.2 0 0 1 299.5,513.4000000000001 Z"/></clipPath><clipPath id="cp3q"><path d="M299.5,523.8 A5.8,5.2 0 0 1 311.1,523.8 L311.1,561.0 A5.8,5.8 0 0 1 299.5,561.0 Z"/></clipPath>
<path d="M299.5,488.1 A5.8,5.8 0 0 1 311.1,488.1 L311.1,513.4000000000001 A5.8,5.2 0 0 1 299.5,513.4000000000001 Z" fill="#fff"/>
<path d="M299.5,523.8 A5.8,5.2 0 0 1 311.1,523.8 L311.1,561.0 A5.8,5.8 0 0 1 299.5,561.0 Z" fill="#fff"/>
<g clip-path="url(#cp3p)"><rect x="299.5" y="489.0" width="11.6" height="5.5" fill="#262626"/><rect x="299.5" y="501.4" width="11.6" height="3.1000000000000227" fill="#262626"/><rect x="299.5" y="511.0" width="11.6" height="2.7999999999999545" fill="#262626"/></g>
<g clip-path="url(#cp3q)"><rect x="299.5" y="525.0" width="11.6" height="7.7999999999999545" fill="#262626"/><rect x="299.5" y="536.3" width="11.6" height="11.400000000000091" fill="#262626"/><rect x="299.5" y="553.0" width="11.6" height="2.6000000000000227" fill="#262626"/><rect x="299.5" y="557.4" width="11.6" height="2.6000000000000227" fill="#262626"/></g>
<path d="M299.5,488.1 A5.8,5.8 0 0 1 311.1,488.1 L311.1,513.4000000000001 A5.8,5.2 0 0 1 299.5,513.4000000000001 Z" fill="none" stroke="#111" stroke-width="1.3"/>
<path d="M299.5,523.8 A5.8,5.2 0 0 1 311.1,523.8 L311.1,561.0 A5.8,5.8 0 0 1 299.5,561.0 Z" fill="none" stroke="#111" stroke-width="1.3"/>
<clipPath id="cp4p"><path d="M320.1,488.1 A5.8,5.8 0 0 1 331.70000000000005,488.1 L331.70000000000005,513.4000000000001 A5.8,5.2 0 0 1 320.1,513.4000000000001 Z"/></clipPath><clipPath id="cp4q"><path d="M320.1,523.8 A5.8,5.2 0 0 1 331.70000000000005,523.8 L331.70000000000005,561.0 A5.8,5.8 0 0 1 320.1,561.0 Z"/></clipPath>
<path d="M320.1,488.1 A5.8,5.8 0 0 1 331.70000000000005,488.1 L331.70000000000005,513.4000000000001 A5.8,5.2 0 0 1 320.1,513.4000000000001 Z" fill="#fff"/>
<path d="M320.1,523.8 A5.8,5.2 0 0 1 331.70000000000005,523.8 L331.70000000000005,561.0 A5.8,5.8 0 0 1 320.1,561.0 Z" fill="#fff"/>
<g clip-path="url(#cp4p)"><rect x="320.1" y="489.0" width="11.6" height="5.5" fill="#d9d9d9"/><rect x="320.1" y="501.4" width="11.6" height="3.1000000000000227" fill="#d9d9d9"/><rect x="320.1" y="511.0" width="11.6" height="2.7999999999999545" fill="#d9d9d9"/></g>
<g clip-path="url(#cp4q)"><rect x="320.1" y="525.0" width="11.6" height="7.7999999999999545" fill="#d9d9d9"/><rect x="320.1" y="536.3" width="11.6" height="11.400000000000091" fill="#d9d9d9"/><rect x="320.1" y="553.0" width="11.6" height="2.6000000000000227" fill="#d9d9d9"/><rect x="320.1" y="557.4" width="11.6" height="2.6000000000000227" fill="#d9d9d9"/></g>
<path d="M320.1,488.1 A5.8,5.8 0 0 1 331.70000000000005,488.1 L331.70000000000005,513.4000000000001 A5.8,5.2 0 0 1 320.1,513.4000000000001 Z" fill="none" stroke="#c9c9c9" stroke-width="1.3"/>
<path d="M320.1,523.8 A5.8,5.2 0 0 1 331.70000000000005,523.8 L331.70000000000005,561.0 A5.8,5.8 0 0 1 320.1,561.0 Z" fill="none" stroke="#c9c9c9" stroke-width="1.3"/>
<path d="M196.2,542.4 C189.0,550.5 188.6,566 195.6,575.4" fill="none" stroke="#36a2d9" stroke-width="1.3"/>
<path d="M198.00,578.60 L194.19,576.07 L197.21,574.10 Z" fill="#36a2d9"/>
<path d="M233.4,541.9 C240.6,550.5 241.0,566 234.0,575.4" fill="none" stroke="#36a2d9" stroke-width="1.3"/>
<path d="M231.50,578.60 L232.29,574.10 L235.31,576.07 Z" fill="#36a2d9"/>
<text x="214.50" y="586.30" font-size="8" text-anchor="middle" fill="#4aa8d8" stroke="#4aa8d8" stroke-width="0.12" >NAMPT</text>
<path d="M292.8,542.2 C285.8,550.5 285.4,566 292.3,575.2" fill="none" stroke="#1a1a1a" stroke-width="1.2"/>
<path d="M294.60,578.40 L290.79,575.87 L293.81,573.90 Z" fill="#1a1a1a"/>
<text x="316.60" y="586.30" font-size="8" text-anchor="middle" fill="#b9d3ea" stroke="#b9d3ea" stroke-width="0.12" >NAMPT</text>
<text x="261.60" y="513.80" font-size="8" text-anchor="middle" fill="#e9a23b" stroke="#e9a23b" stroke-width="0.12" >NAMPT</text>
<text x="261.60" y="523.80" font-size="8" text-anchor="middle" fill="#e9a23b" stroke="#e9a23b" stroke-width="0.12" >Inhibitor</text>
<path d="M261.3,529.7 L261.3,545 C261.3,560 252,572 242.2,582.6" fill="none" stroke="#e9a23b" stroke-width="1.2"/>
<path d="M261.3,545 C261.3,560 270.6,572 280.4,582.6" fill="none" stroke="#e9a23b" stroke-width="1.2"/>
<path d="M239.6,579.4 L244.8,585.9" stroke="#e9a23b" stroke-width="1.2"/>
<path d="M283.0,579.4 L277.8,585.9" stroke="#e9a23b" stroke-width="1.2"/>
<path d="M316.5,591.6 L316.5,605" stroke="#a3172f" stroke-width="1.1"/>
<path d="M316.50,609.00 L314.50,604.40 L318.50,604.40 Z" fill="#a3172f"/>
<text x="316.30" y="619.90" font-size="8" text-anchor="middle" fill="#b61f40" stroke="#b61f40" stroke-width="0.12" textLength="38" lengthAdjust="spacingAndGlyphs">–7 myeloid</text>
<text x="316.70" y="629.50" font-size="8" text-anchor="middle" fill="#b61f40" stroke="#b61f40" stroke-width="0.12" textLength="35" lengthAdjust="spacingAndGlyphs">cell death</text>
</svg></body></html>
